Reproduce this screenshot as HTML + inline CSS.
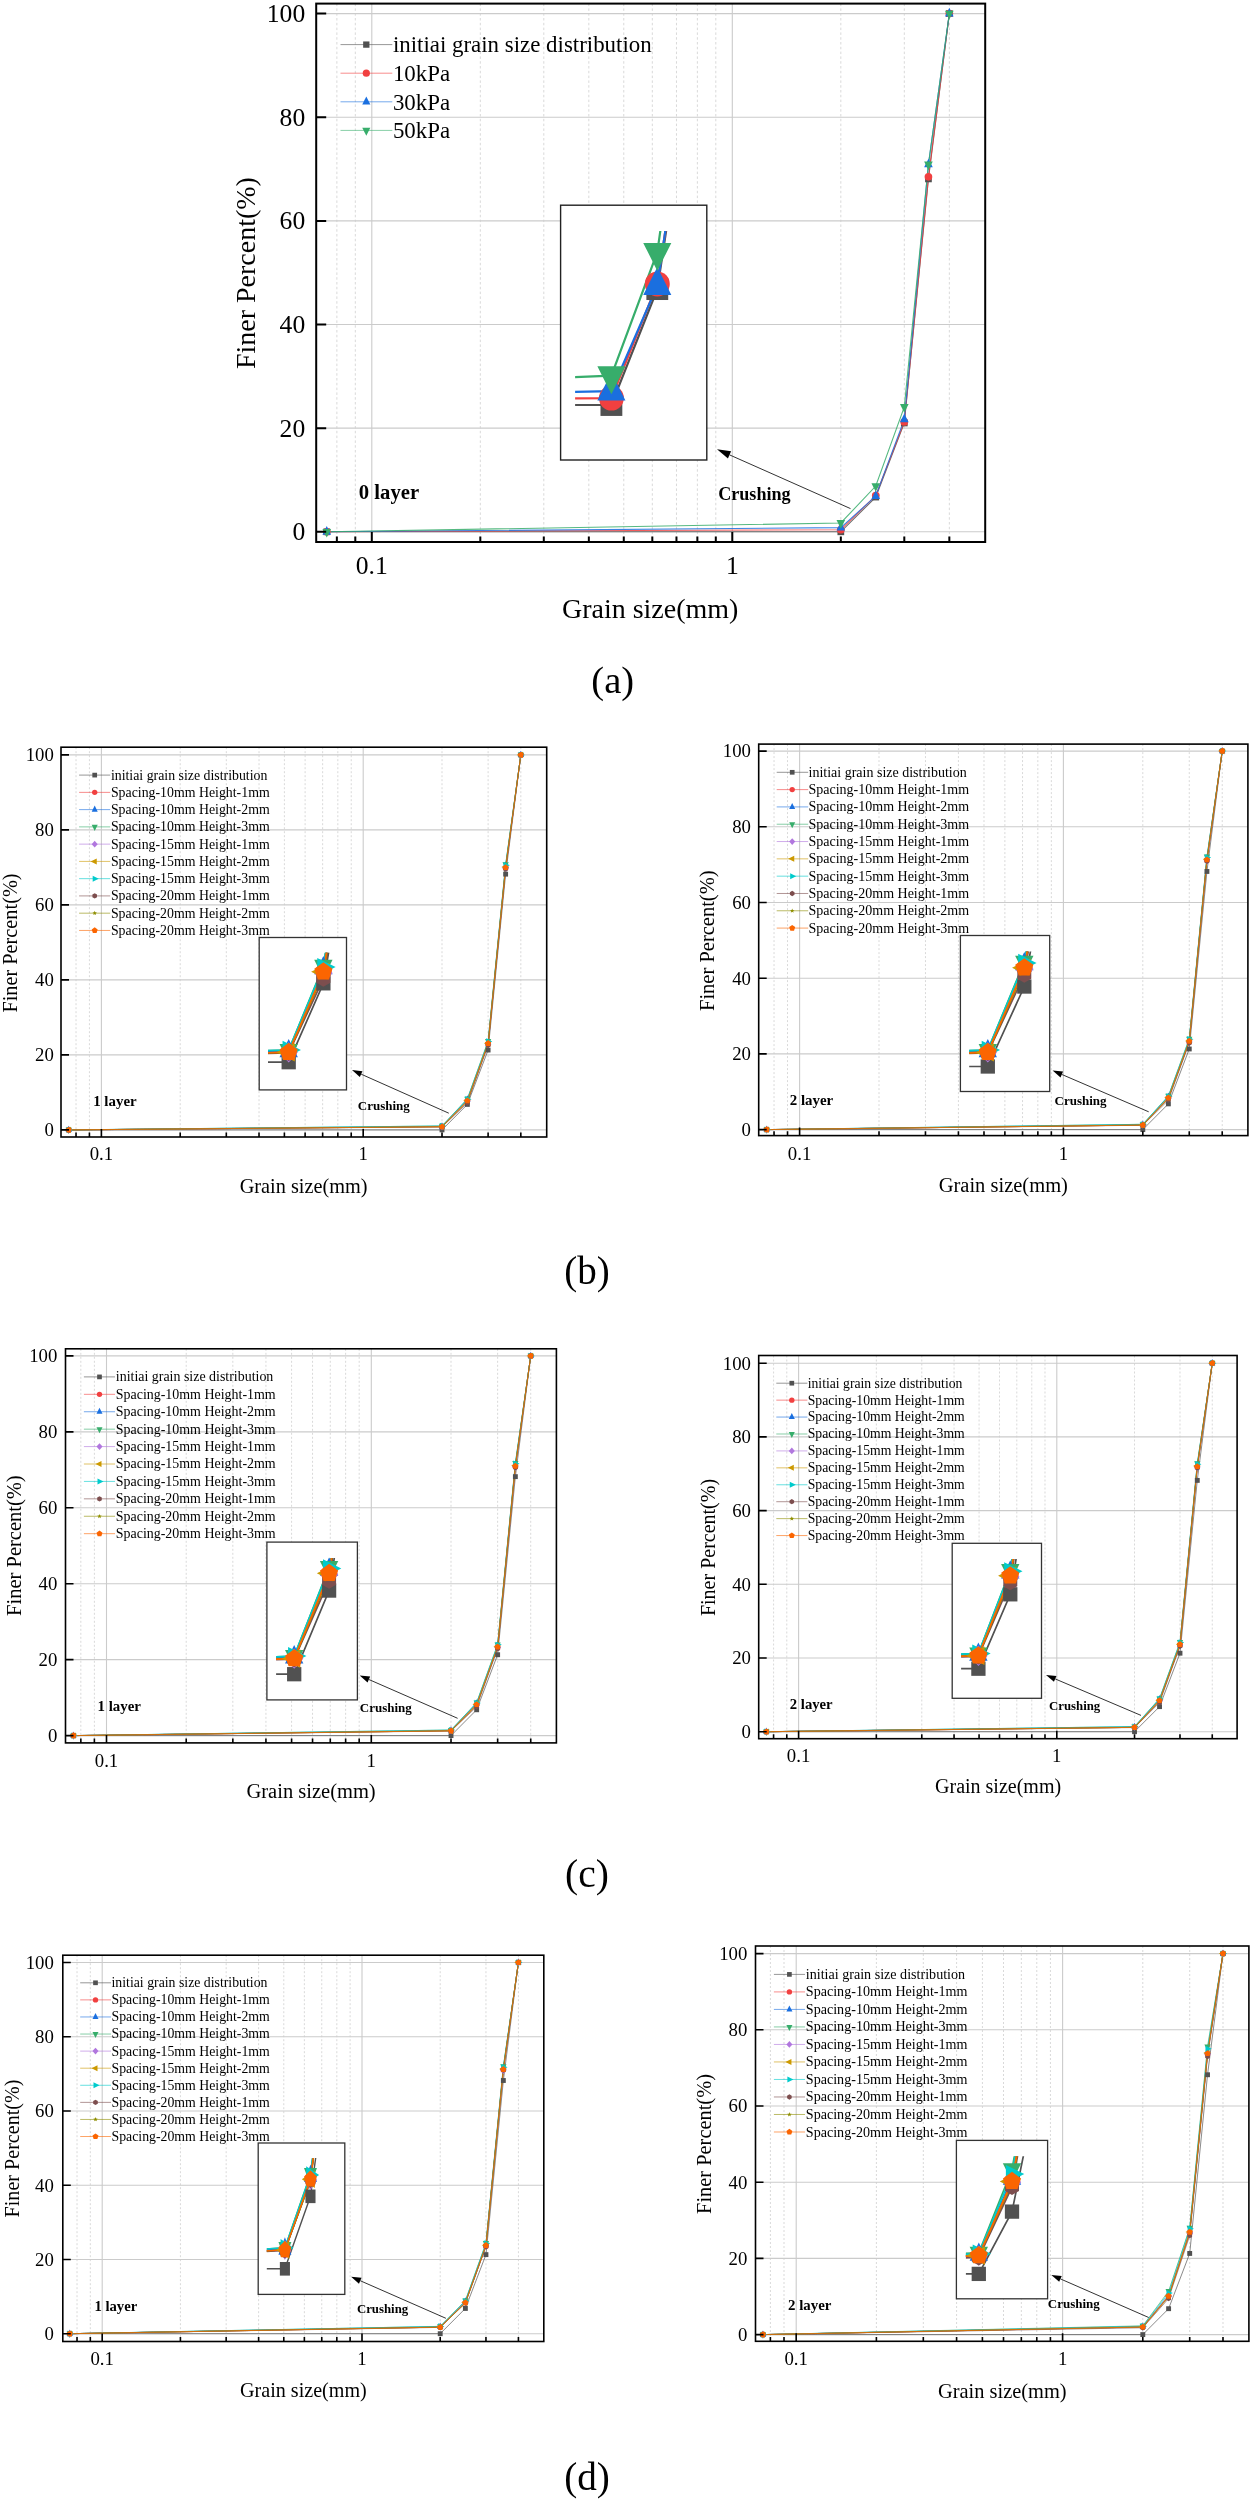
<!DOCTYPE html>
<html><head><meta charset="utf-8"><style>
html,body{margin:0;padding:0;background:#fff;}
svg{display:block;will-change:transform;}
</style></head><body>
<svg width="1252" height="2500" viewBox="0 0 1252 2500" font-family="'Liberation Serif', serif" fill="#000">
<rect width="1252" height="2500" fill="#fff"/>
<path d="M336.86 3.6V542M355.3 3.6V542M480.32 3.6V542M543.8 3.6V542M588.84 3.6V542M623.78 3.6V542M652.32 3.6V542M676.46 3.6V542M697.36 3.6V542M715.8 3.6V542M840.82 3.6V542M904.3 3.6V542M949.34 3.6V542" stroke="#d9d9d9" stroke-width="1" stroke-dasharray="2.5 2.3" fill="none"/>
<path d="M371.8 3.6V542M732.3 3.6V542M316.2 531.8H985.2M316.2 428.16H985.2M316.2 324.52H985.2M316.2 220.88H985.2M316.2 117.24H985.2M316.2 13.6H985.2" stroke="#cbcbcb" stroke-width="1.1" fill="none"/>
<line x1="340.5" y1="44.6" x2="392.3" y2="44.6" stroke="#515151" stroke-width="1" stroke-opacity="0.6"/>
<rect x="363.15" y="41.45" width="6.3" height="6.3" fill="#515151"/>
<text x="392.9" y="52.39" font-size="22.9" text-anchor="start">initiai grain size distribution</text>
<line x1="340.5" y1="73.2" x2="392.3" y2="73.2" stroke="#F14040" stroke-width="1" stroke-opacity="0.6"/>
<ellipse cx="366.3" cy="73.2" rx="3.6" ry="3.6" fill="#F14040"/>
<text x="392.9" y="80.99" font-size="22.9" text-anchor="start">10kPa</text>
<line x1="340.5" y1="101.8" x2="392.3" y2="101.8" stroke="#1A6FDF" stroke-width="1" stroke-opacity="0.6"/>
<polygon points="366.3,96.4 370.35,104.5 362.25,104.5" fill="#1A6FDF"/>
<text x="392.9" y="109.59" font-size="22.9" text-anchor="start">30kPa</text>
<line x1="340.5" y1="130.4" x2="392.3" y2="130.4" stroke="#37AD6B" stroke-width="1" stroke-opacity="0.6"/>
<polygon points="366.3,135.8 370.35,127.7 362.25,127.7" fill="#37AD6B"/>
<text x="392.9" y="138.19" font-size="22.9" text-anchor="start">50kPa</text>
<rect x="560.6" y="205.2" width="146.2" height="254.8" fill="#fff" stroke="#222" stroke-width="1.4"/>
<clipPath id="ca"><rect x="316.2" y="3.6" width="669" height="538.4"/></clipPath>
<g clip-path="url(#ca)">
<polyline points="326.76,531.8 840.82,531.8 875.76,497.08 904.3,422.98 928.44,178.91 949.34,13.6" fill="none" stroke="#515151" stroke-width="1.1" stroke-opacity="0.85"/>
<polyline points="326.76,531.8 840.82,529.73 875.76,495.53 904.3,421.94 928.44,176.83 949.34,13.6" fill="none" stroke="#F14040" stroke-width="1.1" stroke-opacity="0.85"/>
<polyline points="326.76,531.8 840.82,527.65 875.76,496.04 904.3,419.35 928.44,164.4 949.34,13.6" fill="none" stroke="#1A6FDF" stroke-width="1.1" stroke-opacity="0.85"/>
<polyline points="326.76,531.8 840.82,522.99 875.76,486.04 904.3,406.91 928.44,164.4 949.34,13.6" fill="none" stroke="#37AD6B" stroke-width="1.1" stroke-opacity="0.85"/>
<rect x="323.4" y="528.44" width="6.72" height="6.72" fill="#515151"/>
<rect x="837.46" y="528.44" width="6.72" height="6.72" fill="#515151"/>
<rect x="872.4" y="493.72" width="6.72" height="6.72" fill="#515151"/>
<rect x="900.94" y="419.62" width="6.72" height="6.72" fill="#515151"/>
<rect x="925.08" y="175.55" width="6.72" height="6.72" fill="#515151"/>
<rect x="945.98" y="10.24" width="6.72" height="6.72" fill="#515151"/>
<ellipse cx="326.76" cy="531.8" rx="3.84" ry="3.84" fill="#F14040"/>
<ellipse cx="840.82" cy="529.73" rx="3.84" ry="3.84" fill="#F14040"/>
<ellipse cx="875.76" cy="495.53" rx="3.84" ry="3.84" fill="#F14040"/>
<ellipse cx="904.3" cy="421.94" rx="3.84" ry="3.84" fill="#F14040"/>
<ellipse cx="928.44" cy="176.83" rx="3.84" ry="3.84" fill="#F14040"/>
<ellipse cx="949.34" cy="13.6" rx="3.84" ry="3.84" fill="#F14040"/>
<polygon points="326.76,526.04 331.08,534.68 322.44,534.68" fill="#1A6FDF"/>
<polygon points="840.82,521.89 845.14,530.53 836.5,530.53" fill="#1A6FDF"/>
<polygon points="875.76,490.28 880.08,498.92 871.44,498.92" fill="#1A6FDF"/>
<polygon points="904.3,413.59 908.62,422.23 899.98,422.23" fill="#1A6FDF"/>
<polygon points="928.44,158.64 932.76,167.28 924.12,167.28" fill="#1A6FDF"/>
<polygon points="949.34,7.84 953.66,16.48 945.02,16.48" fill="#1A6FDF"/>
<polygon points="326.76,537.56 331.08,528.92 322.44,528.92" fill="#37AD6B"/>
<polygon points="840.82,528.75 845.14,520.11 836.5,520.11" fill="#37AD6B"/>
<polygon points="875.76,491.8 880.08,483.16 871.44,483.16" fill="#37AD6B"/>
<polygon points="904.3,412.67 908.62,404.03 899.98,404.03" fill="#37AD6B"/>
<polygon points="928.44,170.16 932.76,161.52 924.12,161.52" fill="#37AD6B"/>
<polygon points="949.34,19.36 953.66,10.72 945.02,10.72" fill="#37AD6B"/>
</g>
<clipPath id="ia"><rect x="575.1" y="231" width="129.7" height="227"/></clipPath>
<g clip-path="url(#ia)">
<polyline points="-63.94,405 611.4,405 657.3,289.09 694.8,41.7 726.5,-773.13 753.97,-1325" fill="none" stroke="#515151" stroke-width="2.2"/>
<polyline points="-63.94,405 611.4,398.08 657.3,283.9 694.8,38.24 726.5,-780.05 753.97,-1325" fill="none" stroke="#F14040" stroke-width="2.2"/>
<polyline points="-63.94,405 611.4,391.16 657.3,285.63 694.8,29.59 726.5,-821.57 753.97,-1325" fill="none" stroke="#1A6FDF" stroke-width="2.2"/>
<polyline points="-63.94,405 611.4,375.59 657.3,252.24 694.8,-11.93 726.5,-821.57 753.97,-1325" fill="none" stroke="#37AD6B" stroke-width="2.2"/>
</g>
<rect x="600.48" y="394.08" width="21.84" height="21.84" fill="#515151"/>
<rect x="646.38" y="278.17" width="21.84" height="21.84" fill="#515151"/>
<ellipse cx="611.4" cy="398.08" rx="12.48" ry="12.48" fill="#F14040"/>
<ellipse cx="657.3" cy="283.9" rx="12.48" ry="12.48" fill="#F14040"/>
<polygon points="611.4,372.44 625.44,400.52 597.36,400.52" fill="#1A6FDF"/>
<polygon points="657.3,266.91 671.34,294.99 643.26,294.99" fill="#1A6FDF"/>
<polygon points="611.4,394.31 625.44,366.23 597.36,366.23" fill="#37AD6B"/>
<polygon points="657.3,270.96 671.34,242.88 643.26,242.88" fill="#37AD6B"/>
<rect x="316.2" y="3.6" width="669" height="538.4" fill="none" stroke="#000" stroke-width="2"/>
<path d="M316.2 531.8h10M316.2 428.16h10M316.2 324.52h10M316.2 220.88h10M316.2 117.24h10M316.2 13.6h10M371.8 542v-10M732.3 542v-10M336.86 542v-5.5M355.3 542v-5.5M480.32 542v-5.5M543.8 542v-5.5M588.84 542v-5.5M623.78 542v-5.5M652.32 542v-5.5M676.46 542v-5.5M697.36 542v-5.5M715.8 542v-5.5M840.82 542v-5.5M904.3 542v-5.5M949.34 542v-5.5" stroke="#000" stroke-width="2" fill="none"/>
<text x="305.2" y="540.38" font-size="25.6" text-anchor="end">0</text>
<text x="305.2" y="436.74" font-size="25.6" text-anchor="end">20</text>
<text x="305.2" y="333.1" font-size="25.6" text-anchor="end">40</text>
<text x="305.2" y="229.46" font-size="25.6" text-anchor="end">60</text>
<text x="305.2" y="125.82" font-size="25.6" text-anchor="end">80</text>
<text x="305.2" y="22.18" font-size="25.6" text-anchor="end">100</text>
<text x="371.8" y="573.8" font-size="25.6" text-anchor="middle">0.1</text>
<text x="732.3" y="573.8" font-size="25.6" text-anchor="middle">1</text>
<text x="650.2" y="618.2" font-size="28" text-anchor="middle">Grain size(mm)</text>
<text x="0" y="0" font-size="28" text-anchor="middle" transform="translate(255.4,273.1) rotate(-90)">Finer Percent(%)</text>
<text x="358.8" y="498.8" font-size="20.7" text-anchor="start" font-weight="bold">0 layer</text>
<text x="718.2" y="499.8" font-size="18.1" text-anchor="start" font-weight="bold">Crushing</text>
<line x1="850.5" y1="508.6" x2="729.52" y2="454.86" stroke="#333" stroke-width="1"/>
<polygon points="717,449.3 731.1,451.3 727.94,458.43" fill="#000"/>
<path d="M76.03 747.2V1137M89.42 747.2V1137M180.21 747.2V1137M226.31 747.2V1137M259.02 747.2V1137M284.39 747.2V1137M305.12 747.2V1137M322.65 747.2V1137M337.83 747.2V1137M351.22 747.2V1137M442.01 747.2V1137M488.11 747.2V1137M520.82 747.2V1137" stroke="#d9d9d9" stroke-width="1" stroke-dasharray="2 2" fill="none"/>
<path d="M101.4 747.2V1137M363.2 747.2V1137M61 1129.9H546.7M61 1054.9H546.7M61 979.9H546.7M61 904.9H546.7M61 829.9H546.7M61 754.9H546.7" stroke="#cbcbcb" stroke-width="1.1" fill="none"/>
<line x1="79.1" y1="775.1" x2="110.2" y2="775.1" stroke="#515151" stroke-width="1" stroke-opacity="0.6"/>
<rect x="92.35" y="772.75" width="4.7" height="4.7" fill="#515151"/>
<text x="110.9" y="779.53" font-size="13.85" text-anchor="start">initiai grain size distribution</text>
<line x1="79.1" y1="792.36" x2="110.2" y2="792.36" stroke="#F14040" stroke-width="1" stroke-opacity="0.6"/>
<ellipse cx="94.7" cy="792.36" rx="2.69" ry="2.69" fill="#F14040"/>
<text x="110.9" y="796.79" font-size="13.85" text-anchor="start">Spacing-10mm Height-1mm</text>
<line x1="79.1" y1="809.62" x2="110.2" y2="809.62" stroke="#1A6FDF" stroke-width="1" stroke-opacity="0.6"/>
<polygon points="94.7,805.59 97.72,811.64 91.68,811.64" fill="#1A6FDF"/>
<text x="110.9" y="814.05" font-size="13.85" text-anchor="start">Spacing-10mm Height-2mm</text>
<line x1="79.1" y1="826.88" x2="110.2" y2="826.88" stroke="#37AD6B" stroke-width="1" stroke-opacity="0.6"/>
<polygon points="94.7,830.91 97.72,824.86 91.68,824.86" fill="#37AD6B"/>
<text x="110.9" y="831.31" font-size="13.85" text-anchor="start">Spacing-10mm Height-3mm</text>
<line x1="79.1" y1="844.14" x2="110.2" y2="844.14" stroke="#B177DE" stroke-width="1" stroke-opacity="0.6"/>
<polygon points="94.7,840.78 97.72,844.14 94.7,847.5 91.68,844.14" fill="#B177DE"/>
<text x="110.9" y="848.57" font-size="13.85" text-anchor="start">Spacing-15mm Height-1mm</text>
<line x1="79.1" y1="861.4" x2="110.2" y2="861.4" stroke="#CC9900" stroke-width="1" stroke-opacity="0.6"/>
<polygon points="90.67,861.4 96.72,858.38 96.72,864.42" fill="#CC9900"/>
<text x="110.9" y="865.83" font-size="13.85" text-anchor="start">Spacing-15mm Height-2mm</text>
<line x1="79.1" y1="878.66" x2="110.2" y2="878.66" stroke="#00CBCC" stroke-width="1" stroke-opacity="0.6"/>
<polygon points="98.73,878.66 92.68,875.64 92.68,881.68" fill="#00CBCC"/>
<text x="110.9" y="883.09" font-size="13.85" text-anchor="start">Spacing-15mm Height-3mm</text>
<line x1="79.1" y1="895.92" x2="110.2" y2="895.92" stroke="#7D4E4E" stroke-width="1" stroke-opacity="0.6"/>
<polygon points="97,897.25 94.7,898.58 92.4,897.25 92.4,894.59 94.7,893.26 97,894.59" fill="#7D4E4E"/>
<text x="110.9" y="900.35" font-size="13.85" text-anchor="start">Spacing-20mm Height-1mm</text>
<line x1="79.1" y1="913.18" x2="110.2" y2="913.18" stroke="#8E8E00" stroke-width="1" stroke-opacity="0.6"/>
<polygon points="94.7,910.8 95.29,912.36 96.96,912.44 95.66,913.49 96.1,915.11 94.7,914.19 93.3,915.11 93.74,913.49 92.44,912.44 94.11,912.36" fill="#8E8E00"/>
<text x="110.9" y="917.61" font-size="13.85" text-anchor="start">Spacing-20mm Height-2mm</text>
<line x1="79.1" y1="930.44" x2="110.2" y2="930.44" stroke="#FB6501" stroke-width="1" stroke-opacity="0.6"/>
<polygon points="94.7,927.3 97.68,929.47 96.54,932.98 92.86,932.98 91.72,929.47" fill="#FB6501"/>
<text x="110.9" y="934.87" font-size="13.85" text-anchor="start">Spacing-20mm Height-3mm</text>
<rect x="259.2" y="937.5" width="87.3" height="152.4" fill="#fff" stroke="#333" stroke-width="1.3"/>
<clipPath id="cbL"><rect x="61" y="747.2" width="485.7" height="389.8"/></clipPath>
<g clip-path="url(#cbL)">
<polyline points="68.69,1129.9 442.01,1129.9 467.38,1104.4 488.11,1050.03 505.64,874.15 520.82,754.9" fill="none" stroke="#515151" stroke-width="0.9" stroke-opacity="0.75"/>
<polyline points="68.69,1129.9 442.01,1126.71 467.38,1100.65 488.11,1044.4 505.64,868.15 520.82,754.9" fill="none" stroke="#F14040" stroke-width="0.9" stroke-opacity="0.75"/>
<polyline points="68.69,1129.9 442.01,1126.34 467.38,1099.53 488.11,1042.53 505.64,865.9 520.82,754.9" fill="none" stroke="#1A6FDF" stroke-width="0.9" stroke-opacity="0.75"/>
<polyline points="68.69,1129.9 442.01,1125.96 467.38,1098.78 488.11,1041.03 505.64,864.4 520.82,754.9" fill="none" stroke="#37AD6B" stroke-width="0.9" stroke-opacity="0.75"/>
<polyline points="68.69,1129.9 442.01,1126.71 467.38,1101.03 488.11,1044.03 505.64,868.53 520.82,754.9" fill="none" stroke="#B177DE" stroke-width="0.9" stroke-opacity="0.75"/>
<polyline points="68.69,1129.9 442.01,1126.71 467.38,1100.65 488.11,1043.28 505.64,867.03 520.82,754.9" fill="none" stroke="#CC9900" stroke-width="0.9" stroke-opacity="0.75"/>
<polyline points="68.69,1129.9 442.01,1125.96 467.38,1099.15 488.11,1041.4 505.64,865.15 520.82,754.9" fill="none" stroke="#00CBCC" stroke-width="0.9" stroke-opacity="0.75"/>
<polyline points="68.69,1129.9 442.01,1126.9 467.38,1102.9 488.11,1045.15 505.64,868.9 520.82,754.9" fill="none" stroke="#7D4E4E" stroke-width="0.9" stroke-opacity="0.75"/>
<polyline points="68.69,1129.9 442.01,1126.71 467.38,1101.4 488.11,1043.65 505.64,867.4 520.82,754.9" fill="none" stroke="#8E8E00" stroke-width="0.9" stroke-opacity="0.75"/>
<polyline points="68.69,1129.9 442.01,1126.71 467.38,1100.65 488.11,1043.28 505.64,867.4 520.82,754.9" fill="none" stroke="#FB6501" stroke-width="0.9" stroke-opacity="0.75"/>
<rect x="66.26" y="1127.46" width="4.87" height="4.87" fill="#515151"/>
<rect x="439.57" y="1127.46" width="4.87" height="4.87" fill="#515151"/>
<rect x="464.94" y="1101.96" width="4.87" height="4.87" fill="#515151"/>
<rect x="485.67" y="1047.59" width="4.87" height="4.87" fill="#515151"/>
<rect x="503.2" y="871.71" width="4.87" height="4.87" fill="#515151"/>
<rect x="518.38" y="752.46" width="4.87" height="4.87" fill="#515151"/>
<ellipse cx="68.69" cy="1129.9" rx="2.78" ry="2.78" fill="#F14040"/>
<ellipse cx="442.01" cy="1126.71" rx="2.78" ry="2.78" fill="#F14040"/>
<ellipse cx="467.38" cy="1100.65" rx="2.78" ry="2.78" fill="#F14040"/>
<ellipse cx="488.11" cy="1044.4" rx="2.78" ry="2.78" fill="#F14040"/>
<ellipse cx="505.64" cy="868.15" rx="2.78" ry="2.78" fill="#F14040"/>
<ellipse cx="520.82" cy="754.9" rx="2.78" ry="2.78" fill="#F14040"/>
<polygon points="68.69,1125.72 71.82,1131.99 65.56,1131.99" fill="#1A6FDF"/>
<polygon points="442.01,1122.16 445.14,1128.43 438.88,1128.43" fill="#1A6FDF"/>
<polygon points="467.38,1095.35 470.51,1101.61 464.25,1101.61" fill="#1A6FDF"/>
<polygon points="488.11,1038.35 491.24,1044.61 484.98,1044.61" fill="#1A6FDF"/>
<polygon points="505.64,861.72 508.77,867.99 502.51,867.99" fill="#1A6FDF"/>
<polygon points="520.82,750.72 523.95,756.99 517.69,756.99" fill="#1A6FDF"/>
<polygon points="68.69,1134.08 71.82,1127.81 65.56,1127.81" fill="#37AD6B"/>
<polygon points="442.01,1130.14 445.14,1123.87 438.88,1123.87" fill="#37AD6B"/>
<polygon points="467.38,1102.95 470.51,1096.69 464.25,1096.69" fill="#37AD6B"/>
<polygon points="488.11,1045.2 491.24,1038.94 484.98,1038.94" fill="#37AD6B"/>
<polygon points="505.64,868.58 508.77,862.31 502.51,862.31" fill="#37AD6B"/>
<polygon points="520.82,759.08 523.95,752.81 517.69,752.81" fill="#37AD6B"/>
<polygon points="68.69,1126.42 71.82,1129.9 68.69,1133.38 65.56,1129.9" fill="#B177DE"/>
<polygon points="442.01,1123.23 445.14,1126.71 442.01,1130.19 438.88,1126.71" fill="#B177DE"/>
<polygon points="467.38,1097.55 470.51,1101.03 467.38,1104.51 464.25,1101.03" fill="#B177DE"/>
<polygon points="488.11,1040.55 491.24,1044.03 488.11,1047.51 484.98,1044.03" fill="#B177DE"/>
<polygon points="505.64,865.05 508.77,868.53 505.64,872.01 502.51,868.53" fill="#B177DE"/>
<polygon points="520.82,751.42 523.95,754.9 520.82,758.38 517.69,754.9" fill="#B177DE"/>
<polygon points="64.52,1129.9 70.78,1126.77 70.78,1133.03" fill="#CC9900"/>
<polygon points="437.83,1126.71 444.1,1123.58 444.1,1129.84" fill="#CC9900"/>
<polygon points="463.2,1100.65 469.47,1097.52 469.47,1103.78" fill="#CC9900"/>
<polygon points="483.93,1043.28 490.2,1040.14 490.2,1046.41" fill="#CC9900"/>
<polygon points="501.46,867.03 507.73,863.89 507.73,870.16" fill="#CC9900"/>
<polygon points="516.64,754.9 522.91,751.77 522.91,758.03" fill="#CC9900"/>
<polygon points="72.87,1129.9 66.6,1126.77 66.6,1133.03" fill="#00CBCC"/>
<polygon points="446.19,1125.96 439.92,1122.83 439.92,1129.09" fill="#00CBCC"/>
<polygon points="471.56,1099.15 465.29,1096.02 465.29,1102.28" fill="#00CBCC"/>
<polygon points="492.29,1041.4 486.02,1038.27 486.02,1044.53" fill="#00CBCC"/>
<polygon points="509.81,865.15 503.55,862.02 503.55,868.28" fill="#00CBCC"/>
<polygon points="525,754.9 518.73,751.77 518.73,758.03" fill="#00CBCC"/>
<polygon points="71.08,1131.28 68.69,1132.66 66.31,1131.28 66.31,1128.52 68.69,1127.14 71.08,1128.52" fill="#7D4E4E"/>
<polygon points="444.4,1128.28 442.01,1129.66 439.62,1128.28 439.62,1125.52 442.01,1124.14 444.4,1125.52" fill="#7D4E4E"/>
<polygon points="469.77,1104.28 467.38,1105.66 464.99,1104.28 464.99,1101.52 467.38,1100.14 469.77,1101.52" fill="#7D4E4E"/>
<polygon points="490.5,1046.53 488.11,1047.91 485.72,1046.53 485.72,1043.77 488.11,1042.39 490.5,1043.77" fill="#7D4E4E"/>
<polygon points="508.02,870.28 505.64,871.66 503.25,870.28 503.25,867.52 505.64,866.15 508.02,867.52" fill="#7D4E4E"/>
<polygon points="523.21,756.28 520.82,757.66 518.43,756.28 518.43,753.52 520.82,752.15 523.21,753.52" fill="#7D4E4E"/>
<polygon points="68.69,1127.44 69.3,1129.06 71.04,1129.14 69.68,1130.22 70.14,1131.89 68.69,1130.94 67.24,1131.89 67.7,1130.22 66.35,1129.14 68.08,1129.06" fill="#8E8E00"/>
<polygon points="442.01,1124.25 442.62,1125.87 444.35,1125.95 443,1127.04 443.46,1128.71 442.01,1127.76 440.56,1128.71 441.02,1127.04 439.67,1125.95 441.4,1125.87" fill="#8E8E00"/>
<polygon points="467.38,1098.94 467.99,1100.56 469.73,1100.64 468.37,1101.72 468.83,1103.39 467.38,1102.44 465.93,1103.39 466.39,1101.72 465.04,1100.64 466.77,1100.56" fill="#8E8E00"/>
<polygon points="488.11,1041.19 488.72,1042.81 490.45,1042.89 489.1,1043.97 489.56,1045.64 488.11,1044.69 486.66,1045.64 487.12,1043.97 485.77,1042.89 487.5,1042.81" fill="#8E8E00"/>
<polygon points="505.64,864.94 506.25,866.56 507.98,866.64 506.63,867.72 507.09,869.39 505.64,868.44 504.19,869.39 504.64,867.72 503.29,866.64 505.02,866.56" fill="#8E8E00"/>
<polygon points="520.82,752.44 521.43,754.06 523.16,754.14 521.81,755.22 522.27,756.89 520.82,755.94 519.37,756.89 519.83,755.22 518.47,754.14 520.21,754.06" fill="#8E8E00"/>
<polygon points="68.69,1126.65 71.78,1128.9 70.6,1132.53 66.78,1132.53 65.6,1128.9" fill="#FB6501"/>
<polygon points="442.01,1123.46 445.1,1125.71 443.92,1129.34 440.1,1129.34 438.92,1125.71" fill="#FB6501"/>
<polygon points="467.38,1097.4 470.47,1099.65 469.29,1103.28 465.47,1103.28 464.29,1099.65" fill="#FB6501"/>
<polygon points="488.11,1040.03 491.2,1042.27 490.02,1045.9 486.2,1045.9 485.02,1042.27" fill="#FB6501"/>
<polygon points="505.64,864.15 508.73,866.4 507.55,870.03 503.73,870.03 502.55,866.4" fill="#FB6501"/>
<polygon points="520.82,751.65 523.91,753.9 522.73,757.53 518.91,757.53 517.73,753.9" fill="#FB6501"/>
</g>
<clipPath id="ibL"><rect x="268" y="952.8" width="76.5" height="135.1"/></clipPath>
<g clip-path="url(#ibL)">
<polyline points="-221.8,1062.2 288.7,1062.2 323.39,983.32 351.74,815.12 375.71,271.08 396.47,-97.8" fill="none" stroke="#515151" stroke-width="1.7"/>
<polyline points="-221.8,1062.2 288.7,1052.34 323.39,971.72 351.74,797.72 375.71,252.52 396.47,-97.8" fill="none" stroke="#F14040" stroke-width="1.7"/>
<polyline points="-221.8,1062.2 288.7,1051.18 323.39,968.24 351.74,791.92 375.71,245.56 396.47,-97.8" fill="none" stroke="#1A6FDF" stroke-width="1.7"/>
<polyline points="-221.8,1062.2 288.7,1050.02 323.39,965.92 351.74,787.28 375.71,240.92 396.47,-97.8" fill="none" stroke="#37AD6B" stroke-width="1.7"/>
<polyline points="-221.8,1062.2 288.7,1052.34 323.39,972.88 351.74,796.56 375.71,253.68 396.47,-97.8" fill="none" stroke="#B177DE" stroke-width="1.7"/>
<polyline points="-221.8,1062.2 288.7,1052.34 323.39,971.72 351.74,794.24 375.71,249.04 396.47,-97.8" fill="none" stroke="#CC9900" stroke-width="1.7"/>
<polyline points="-221.8,1062.2 288.7,1050.02 323.39,967.08 351.74,788.44 375.71,243.24 396.47,-97.8" fill="none" stroke="#00CBCC" stroke-width="1.7"/>
<polyline points="-221.8,1062.2 288.7,1052.92 323.39,978.68 351.74,800.04 375.71,254.84 396.47,-97.8" fill="none" stroke="#7D4E4E" stroke-width="1.7"/>
<polyline points="-221.8,1062.2 288.7,1052.34 323.39,974.04 351.74,795.4 375.71,250.2 396.47,-97.8" fill="none" stroke="#8E8E00" stroke-width="1.7"/>
<polyline points="-221.8,1062.2 288.7,1052.34 323.39,971.72 351.74,794.24 375.71,250.2 396.47,-97.8" fill="none" stroke="#FB6501" stroke-width="1.7"/>
</g>
<rect x="281.56" y="1055.06" width="14.28" height="14.28" fill="#515151"/>
<rect x="316.25" y="976.18" width="14.28" height="14.28" fill="#515151"/>
<ellipse cx="288.7" cy="1052.34" rx="8.16" ry="8.16" fill="#F14040"/>
<ellipse cx="323.39" cy="971.72" rx="8.16" ry="8.16" fill="#F14040"/>
<polygon points="288.7,1038.94 297.88,1057.3 279.52,1057.3" fill="#1A6FDF"/>
<polygon points="323.39,956 332.57,974.36 314.21,974.36" fill="#1A6FDF"/>
<polygon points="288.7,1062.26 297.88,1043.9 279.52,1043.9" fill="#37AD6B"/>
<polygon points="323.39,978.16 332.57,959.8 314.21,959.8" fill="#37AD6B"/>
<polygon points="288.7,1042.14 297.88,1052.34 288.7,1062.54 279.52,1052.34" fill="#B177DE"/>
<polygon points="323.39,962.68 332.57,972.88 323.39,983.08 314.21,972.88" fill="#B177DE"/>
<polygon points="276.46,1052.34 294.82,1043.16 294.82,1061.52" fill="#CC9900"/>
<polygon points="311.15,971.72 329.51,962.54 329.51,980.9" fill="#CC9900"/>
<polygon points="300.94,1050.02 282.58,1040.84 282.58,1059.2" fill="#00CBCC"/>
<polygon points="335.63,967.08 317.27,957.9 317.27,976.26" fill="#00CBCC"/>
<polygon points="295.69,1056.96 288.7,1061 281.71,1056.96 281.71,1048.88 288.7,1044.85 295.69,1048.88" fill="#7D4E4E"/>
<polygon points="330.39,982.72 323.39,986.76 316.4,982.72 316.4,974.64 323.39,970.61 330.39,974.64" fill="#7D4E4E"/>
<polygon points="288.7,1045.12 290.5,1049.86 295.57,1050.11 291.61,1053.29 292.95,1058.19 288.7,1055.4 284.45,1058.19 285.79,1053.29 281.83,1050.11 286.9,1049.86" fill="#8E8E00"/>
<polygon points="323.39,966.82 325.19,971.56 330.27,971.81 326.3,974.99 327.64,979.89 323.39,977.1 319.15,979.89 320.48,974.99 316.52,971.81 321.6,971.56" fill="#8E8E00"/>
<polygon points="288.7,1042.82 297.75,1049.4 294.3,1060.04 283.1,1060.04 279.65,1049.4" fill="#FB6501"/>
<polygon points="323.39,962.2 332.45,968.78 328.99,979.42 317.8,979.42 314.34,968.78" fill="#FB6501"/>
<rect x="61" y="747.2" width="485.7" height="389.8" fill="none" stroke="#000" stroke-width="1.6"/>
<path d="M61 1129.9h8M61 1054.9h8M61 979.9h8M61 904.9h8M61 829.9h8M61 754.9h8M101.4 1137v-8M363.2 1137v-8M76.03 1137v-4.4M89.42 1137v-4.4M180.21 1137v-4.4M226.31 1137v-4.4M259.02 1137v-4.4M284.39 1137v-4.4M305.12 1137v-4.4M322.65 1137v-4.4M337.83 1137v-4.4M351.22 1137v-4.4M442.01 1137v-4.4M488.11 1137v-4.4M520.82 1137v-4.4" stroke="#000" stroke-width="1.6" fill="none"/>
<text x="53.8" y="1136.2" font-size="18.8" text-anchor="end">0</text>
<text x="53.8" y="1061.2" font-size="18.8" text-anchor="end">20</text>
<text x="53.8" y="986.2" font-size="18.8" text-anchor="end">40</text>
<text x="53.8" y="911.2" font-size="18.8" text-anchor="end">60</text>
<text x="53.8" y="836.2" font-size="18.8" text-anchor="end">80</text>
<text x="53.8" y="761.2" font-size="18.8" text-anchor="end">100</text>
<text x="101.4" y="1160" font-size="18.8" text-anchor="middle">0.1</text>
<text x="363.2" y="1160" font-size="18.8" text-anchor="middle">1</text>
<text x="303.6" y="1192.7" font-size="20.3" text-anchor="middle">Grain size(mm)</text>
<text x="0" y="0" font-size="20.3" text-anchor="middle" transform="translate(17,943) rotate(-90)">Finer Percent(%)</text>
<text x="93.2" y="1105.8" font-size="14.9" text-anchor="start" font-weight="bold">1 layer</text>
<text x="357.75" y="1109.7" font-size="13" text-anchor="start" font-weight="bold">Crushing</text>
<line x1="448.8" y1="1113.2" x2="361.14" y2="1074.17" stroke="#333" stroke-width="1"/>
<polygon points="352,1070.1 362.44,1071.24 359.83,1077.09" fill="#000"/>
<path d="M774.04 744.1V1135.6M787.53 744.1V1135.6M879.01 744.1V1135.6M925.46 744.1V1135.6M958.42 744.1V1135.6M983.99 744.1V1135.6M1004.88 744.1V1135.6M1022.54 744.1V1135.6M1037.84 744.1V1135.6M1051.33 744.1V1135.6M1142.81 744.1V1135.6M1189.26 744.1V1135.6M1222.22 744.1V1135.6" stroke="#d9d9d9" stroke-width="1" stroke-dasharray="2 2" fill="none"/>
<path d="M799.6 744.1V1135.6M1063.4 744.1V1135.6M758.7 1129.6H1247.9M758.7 1053.9H1247.9M758.7 978.2H1247.9M758.7 902.5H1247.9M758.7 826.8H1247.9M758.7 751.1H1247.9" stroke="#cbcbcb" stroke-width="1.1" fill="none"/>
<line x1="776.7" y1="772.3" x2="808.2" y2="772.3" stroke="#515151" stroke-width="1" stroke-opacity="0.6"/>
<rect x="789.85" y="769.95" width="4.7" height="4.7" fill="#515151"/>
<text x="808.5" y="776.78" font-size="14" text-anchor="start">initiai grain size distribution</text>
<line x1="776.7" y1="789.61" x2="808.2" y2="789.61" stroke="#F14040" stroke-width="1" stroke-opacity="0.6"/>
<ellipse cx="792.2" cy="789.61" rx="2.69" ry="2.69" fill="#F14040"/>
<text x="808.5" y="794.09" font-size="14" text-anchor="start">Spacing-10mm Height-1mm</text>
<line x1="776.7" y1="806.92" x2="808.2" y2="806.92" stroke="#1A6FDF" stroke-width="1" stroke-opacity="0.6"/>
<polygon points="792.2,802.89 795.22,808.94 789.18,808.94" fill="#1A6FDF"/>
<text x="808.5" y="811.4" font-size="14" text-anchor="start">Spacing-10mm Height-2mm</text>
<line x1="776.7" y1="824.23" x2="808.2" y2="824.23" stroke="#37AD6B" stroke-width="1" stroke-opacity="0.6"/>
<polygon points="792.2,828.26 795.22,822.21 789.18,822.21" fill="#37AD6B"/>
<text x="808.5" y="828.71" font-size="14" text-anchor="start">Spacing-10mm Height-3mm</text>
<line x1="776.7" y1="841.54" x2="808.2" y2="841.54" stroke="#B177DE" stroke-width="1" stroke-opacity="0.6"/>
<polygon points="792.2,838.18 795.22,841.54 792.2,844.9 789.18,841.54" fill="#B177DE"/>
<text x="808.5" y="846.02" font-size="14" text-anchor="start">Spacing-15mm Height-1mm</text>
<line x1="776.7" y1="858.85" x2="808.2" y2="858.85" stroke="#CC9900" stroke-width="1" stroke-opacity="0.6"/>
<polygon points="788.17,858.85 794.22,855.83 794.22,861.87" fill="#CC9900"/>
<text x="808.5" y="863.33" font-size="14" text-anchor="start">Spacing-15mm Height-2mm</text>
<line x1="776.7" y1="876.16" x2="808.2" y2="876.16" stroke="#00CBCC" stroke-width="1" stroke-opacity="0.6"/>
<polygon points="796.23,876.16 790.18,873.14 790.18,879.18" fill="#00CBCC"/>
<text x="808.5" y="880.64" font-size="14" text-anchor="start">Spacing-15mm Height-3mm</text>
<line x1="776.7" y1="893.47" x2="808.2" y2="893.47" stroke="#7D4E4E" stroke-width="1" stroke-opacity="0.6"/>
<polygon points="794.5,894.8 792.2,896.13 789.9,894.8 789.9,892.14 792.2,890.81 794.5,892.14" fill="#7D4E4E"/>
<text x="808.5" y="897.95" font-size="14" text-anchor="start">Spacing-20mm Height-1mm</text>
<line x1="776.7" y1="910.78" x2="808.2" y2="910.78" stroke="#8E8E00" stroke-width="1" stroke-opacity="0.6"/>
<polygon points="792.2,908.4 792.79,909.96 794.46,910.04 793.16,911.09 793.6,912.71 792.2,911.79 790.8,912.71 791.24,911.09 789.94,910.04 791.61,909.96" fill="#8E8E00"/>
<text x="808.5" y="915.26" font-size="14" text-anchor="start">Spacing-20mm Height-2mm</text>
<line x1="776.7" y1="928.09" x2="808.2" y2="928.09" stroke="#FB6501" stroke-width="1" stroke-opacity="0.6"/>
<polygon points="792.2,924.95 795.18,927.12 794.04,930.63 790.36,930.63 789.22,927.12" fill="#FB6501"/>
<text x="808.5" y="932.57" font-size="14" text-anchor="start">Spacing-20mm Height-3mm</text>
<rect x="960.4" y="935.5" width="89.3" height="156" fill="#fff" stroke="#333" stroke-width="1.3"/>
<clipPath id="cbR"><rect x="758.7" y="744.1" width="489.2" height="391.5"/></clipPath>
<g clip-path="url(#cbR)">
<polyline points="766.64,1129.6 1142.81,1129.6 1168.38,1103.86 1189.26,1048.98 1206.93,871.46 1222.22,751.1" fill="none" stroke="#515151" stroke-width="0.9" stroke-opacity="0.75"/>
<polyline points="766.64,1129.6 1142.81,1125.06 1168.38,1097.81 1189.26,1042.17 1206.93,860.49 1222.22,751.1" fill="none" stroke="#F14040" stroke-width="0.9" stroke-opacity="0.75"/>
<polyline points="766.64,1129.6 1142.81,1124.68 1168.38,1096.67 1189.26,1040.27 1206.93,858.22 1222.22,751.1" fill="none" stroke="#1A6FDF" stroke-width="0.9" stroke-opacity="0.75"/>
<polyline points="766.64,1129.6 1142.81,1124.3 1168.38,1095.91 1189.26,1038.76 1206.93,856.7 1222.22,751.1" fill="none" stroke="#37AD6B" stroke-width="0.9" stroke-opacity="0.75"/>
<polyline points="766.64,1129.6 1142.81,1125.06 1168.38,1098.18 1189.26,1041.79 1206.93,860.86 1222.22,751.1" fill="none" stroke="#B177DE" stroke-width="0.9" stroke-opacity="0.75"/>
<polyline points="766.64,1129.6 1142.81,1125.06 1168.38,1097.81 1189.26,1041.03 1206.93,859.35 1222.22,751.1" fill="none" stroke="#CC9900" stroke-width="0.9" stroke-opacity="0.75"/>
<polyline points="766.64,1129.6 1142.81,1124.3 1168.38,1096.29 1189.26,1039.14 1206.93,857.46 1222.22,751.1" fill="none" stroke="#00CBCC" stroke-width="0.9" stroke-opacity="0.75"/>
<polyline points="766.64,1129.6 1142.81,1125.25 1168.38,1100.08 1189.26,1042.92 1206.93,861.24 1222.22,751.1" fill="none" stroke="#7D4E4E" stroke-width="0.9" stroke-opacity="0.75"/>
<polyline points="766.64,1129.6 1142.81,1125.06 1168.38,1098.56 1189.26,1041.41 1206.93,859.73 1222.22,751.1" fill="none" stroke="#8E8E00" stroke-width="0.9" stroke-opacity="0.75"/>
<polyline points="766.64,1129.6 1142.81,1125.06 1168.38,1097.81 1189.26,1041.03 1206.93,859.73 1222.22,751.1" fill="none" stroke="#FB6501" stroke-width="0.9" stroke-opacity="0.75"/>
<rect x="764.21" y="1127.16" width="4.87" height="4.87" fill="#515151"/>
<rect x="1140.38" y="1127.16" width="4.87" height="4.87" fill="#515151"/>
<rect x="1165.94" y="1101.43" width="4.87" height="4.87" fill="#515151"/>
<rect x="1186.83" y="1046.54" width="4.87" height="4.87" fill="#515151"/>
<rect x="1204.49" y="869.03" width="4.87" height="4.87" fill="#515151"/>
<rect x="1219.79" y="748.66" width="4.87" height="4.87" fill="#515151"/>
<ellipse cx="766.64" cy="1129.6" rx="2.78" ry="2.78" fill="#F14040"/>
<ellipse cx="1142.81" cy="1125.06" rx="2.78" ry="2.78" fill="#F14040"/>
<ellipse cx="1168.38" cy="1097.81" rx="2.78" ry="2.78" fill="#F14040"/>
<ellipse cx="1189.26" cy="1042.17" rx="2.78" ry="2.78" fill="#F14040"/>
<ellipse cx="1206.93" cy="860.49" rx="2.78" ry="2.78" fill="#F14040"/>
<ellipse cx="1222.22" cy="751.1" rx="2.78" ry="2.78" fill="#F14040"/>
<polygon points="766.64,1125.42 769.77,1131.69 763.51,1131.69" fill="#1A6FDF"/>
<polygon points="1142.81,1120.5 1145.94,1126.77 1139.68,1126.77" fill="#1A6FDF"/>
<polygon points="1168.38,1092.49 1171.51,1098.76 1165.24,1098.76" fill="#1A6FDF"/>
<polygon points="1189.26,1036.1 1192.4,1042.36 1186.13,1042.36" fill="#1A6FDF"/>
<polygon points="1206.93,854.04 1210.06,860.3 1203.79,860.3" fill="#1A6FDF"/>
<polygon points="1222.22,746.92 1225.36,753.19 1219.09,753.19" fill="#1A6FDF"/>
<polygon points="766.64,1133.78 769.77,1127.51 763.51,1127.51" fill="#37AD6B"/>
<polygon points="1142.81,1128.48 1145.94,1122.21 1139.68,1122.21" fill="#37AD6B"/>
<polygon points="1168.38,1100.09 1171.51,1093.83 1165.24,1093.83" fill="#37AD6B"/>
<polygon points="1189.26,1042.94 1192.4,1036.67 1186.13,1036.67" fill="#37AD6B"/>
<polygon points="1206.93,860.88 1210.06,854.61 1203.79,854.61" fill="#37AD6B"/>
<polygon points="1222.22,755.28 1225.36,749.01 1219.09,749.01" fill="#37AD6B"/>
<polygon points="766.64,1126.12 769.77,1129.6 766.64,1133.08 763.51,1129.6" fill="#B177DE"/>
<polygon points="1142.81,1121.58 1145.94,1125.06 1142.81,1128.54 1139.68,1125.06" fill="#B177DE"/>
<polygon points="1168.38,1094.7 1171.51,1098.18 1168.38,1101.66 1165.24,1098.18" fill="#B177DE"/>
<polygon points="1189.26,1038.31 1192.4,1041.79 1189.26,1045.27 1186.13,1041.79" fill="#B177DE"/>
<polygon points="1206.93,857.38 1210.06,860.86 1206.93,864.34 1203.79,860.86" fill="#B177DE"/>
<polygon points="1222.22,747.62 1225.36,751.1 1222.22,754.58 1219.09,751.1" fill="#B177DE"/>
<polygon points="762.47,1129.6 768.73,1126.47 768.73,1132.73" fill="#CC9900"/>
<polygon points="1138.64,1125.06 1144.9,1121.93 1144.9,1128.19" fill="#CC9900"/>
<polygon points="1164.2,1097.81 1170.46,1094.67 1170.46,1100.94" fill="#CC9900"/>
<polygon points="1185.09,1041.03 1191.35,1037.9 1191.35,1044.16" fill="#CC9900"/>
<polygon points="1202.75,859.35 1209.01,856.22 1209.01,862.48" fill="#CC9900"/>
<polygon points="1218.05,751.1 1224.31,747.97 1224.31,754.23" fill="#CC9900"/>
<polygon points="770.82,1129.6 764.55,1126.47 764.55,1132.73" fill="#00CBCC"/>
<polygon points="1146.99,1124.3 1140.72,1121.17 1140.72,1127.43" fill="#00CBCC"/>
<polygon points="1172.55,1096.29 1166.29,1093.16 1166.29,1099.42" fill="#00CBCC"/>
<polygon points="1193.44,1039.14 1187.18,1036.01 1187.18,1042.27" fill="#00CBCC"/>
<polygon points="1211.1,857.46 1204.84,854.33 1204.84,860.59" fill="#00CBCC"/>
<polygon points="1226.4,751.1 1220.14,747.97 1220.14,754.23" fill="#00CBCC"/>
<polygon points="769.03,1130.98 766.64,1132.36 764.26,1130.98 764.26,1128.22 766.64,1126.84 769.03,1128.22" fill="#7D4E4E"/>
<polygon points="1145.2,1126.62 1142.81,1128 1140.43,1126.62 1140.43,1123.87 1142.81,1122.49 1145.2,1123.87" fill="#7D4E4E"/>
<polygon points="1170.76,1101.45 1168.38,1102.83 1165.99,1101.45 1165.99,1098.7 1168.38,1097.32 1170.76,1098.7" fill="#7D4E4E"/>
<polygon points="1191.65,1044.3 1189.26,1045.68 1186.88,1044.3 1186.88,1041.55 1189.26,1040.17 1191.65,1041.55" fill="#7D4E4E"/>
<polygon points="1209.31,862.62 1206.93,864 1204.54,862.62 1204.54,859.87 1206.93,858.49 1209.31,859.87" fill="#7D4E4E"/>
<polygon points="1224.61,752.48 1222.22,753.85 1219.84,752.48 1219.84,749.72 1222.22,748.34 1224.61,749.72" fill="#7D4E4E"/>
<polygon points="766.64,1127.13 767.25,1128.76 768.99,1128.84 767.63,1129.92 768.09,1131.59 766.64,1130.64 765.19,1131.59 765.65,1129.92 764.3,1128.84 766.03,1128.76" fill="#8E8E00"/>
<polygon points="1142.81,1122.59 1143.43,1124.21 1145.16,1124.3 1143.8,1125.38 1144.26,1127.05 1142.81,1126.1 1141.36,1127.05 1141.82,1125.38 1140.47,1124.3 1142.2,1124.21" fill="#8E8E00"/>
<polygon points="1168.38,1096.1 1168.99,1097.72 1170.72,1097.8 1169.37,1098.89 1169.83,1100.56 1168.38,1099.61 1166.93,1100.56 1167.38,1098.89 1166.03,1097.8 1167.76,1097.72" fill="#8E8E00"/>
<polygon points="1189.26,1038.94 1189.88,1040.56 1191.61,1040.65 1190.26,1041.73 1190.71,1043.4 1189.26,1042.45 1187.82,1043.4 1188.27,1041.73 1186.92,1040.65 1188.65,1040.56" fill="#8E8E00"/>
<polygon points="1206.93,857.26 1207.54,858.88 1209.27,858.97 1207.92,860.05 1208.37,861.72 1206.93,860.77 1205.48,861.72 1205.93,860.05 1204.58,858.97 1206.31,858.88" fill="#8E8E00"/>
<polygon points="1222.22,748.63 1222.84,750.26 1224.57,750.34 1223.22,751.42 1223.67,753.09 1222.22,752.14 1220.77,753.09 1221.23,751.42 1219.88,750.34 1221.61,750.26" fill="#8E8E00"/>
<polygon points="766.64,1126.35 769.73,1128.6 768.55,1132.23 764.73,1132.23 763.55,1128.6" fill="#FB6501"/>
<polygon points="1142.81,1121.81 1145.9,1124.05 1144.72,1127.69 1140.9,1127.69 1139.72,1124.05" fill="#FB6501"/>
<polygon points="1168.38,1094.56 1171.47,1096.8 1170.29,1100.43 1166.47,1100.43 1165.29,1096.8" fill="#FB6501"/>
<polygon points="1189.26,1037.78 1192.35,1040.03 1191.17,1043.66 1187.36,1043.66 1186.18,1040.03" fill="#FB6501"/>
<polygon points="1206.93,856.48 1210.01,858.73 1208.83,862.36 1205.02,862.36 1203.84,858.73" fill="#FB6501"/>
<polygon points="1222.22,747.85 1225.31,750.1 1224.13,753.73 1220.31,753.73 1219.13,750.1" fill="#FB6501"/>
</g>
<clipPath id="ibR"><rect x="969.2" y="951.4" width="78.5" height="138.1"/></clipPath>
<g clip-path="url(#ibR)">
<polyline points="450.64,1066.5 987.8,1066.5 1024.31,986.53 1054.13,816.01 1079.35,264.47 1101.2,-109.5" fill="none" stroke="#515151" stroke-width="1.7"/>
<polyline points="450.64,1066.5 987.8,1052.39 1024.31,967.72 1054.13,794.84 1079.35,230.36 1101.2,-109.5" fill="none" stroke="#F14040" stroke-width="1.7"/>
<polyline points="450.64,1066.5 987.8,1051.21 1024.31,964.19 1054.13,788.96 1079.35,223.31 1101.2,-109.5" fill="none" stroke="#1A6FDF" stroke-width="1.7"/>
<polyline points="450.64,1066.5 987.8,1050.04 1024.31,961.84 1054.13,784.26 1079.35,218.6 1101.2,-109.5" fill="none" stroke="#37AD6B" stroke-width="1.7"/>
<polyline points="450.64,1066.5 987.8,1052.39 1024.31,968.89 1054.13,793.67 1079.35,231.54 1101.2,-109.5" fill="none" stroke="#B177DE" stroke-width="1.7"/>
<polyline points="450.64,1066.5 987.8,1052.39 1024.31,967.72 1054.13,791.32 1079.35,226.84 1101.2,-109.5" fill="none" stroke="#CC9900" stroke-width="1.7"/>
<polyline points="450.64,1066.5 987.8,1050.04 1024.31,963.01 1054.13,785.44 1079.35,220.96 1101.2,-109.5" fill="none" stroke="#00CBCC" stroke-width="1.7"/>
<polyline points="450.64,1066.5 987.8,1052.98 1024.31,974.77 1054.13,797.2 1079.35,232.72 1101.2,-109.5" fill="none" stroke="#7D4E4E" stroke-width="1.7"/>
<polyline points="450.64,1066.5 987.8,1052.39 1024.31,970.07 1054.13,792.49 1079.35,228.01 1101.2,-109.5" fill="none" stroke="#8E8E00" stroke-width="1.7"/>
<polyline points="450.64,1066.5 987.8,1052.39 1024.31,967.72 1054.13,791.32 1079.35,228.01 1101.2,-109.5" fill="none" stroke="#FB6501" stroke-width="1.7"/>
</g>
<rect x="980.66" y="1059.36" width="14.28" height="14.28" fill="#515151"/>
<rect x="1017.17" y="979.39" width="14.28" height="14.28" fill="#515151"/>
<ellipse cx="987.8" cy="1052.39" rx="8.16" ry="8.16" fill="#F14040"/>
<ellipse cx="1024.31" cy="967.72" rx="8.16" ry="8.16" fill="#F14040"/>
<polygon points="987.8,1038.97 996.98,1057.33 978.62,1057.33" fill="#1A6FDF"/>
<polygon points="1024.31,951.95 1033.49,970.31 1015.13,970.31" fill="#1A6FDF"/>
<polygon points="987.8,1062.28 996.98,1043.92 978.62,1043.92" fill="#37AD6B"/>
<polygon points="1024.31,974.08 1033.49,955.72 1015.13,955.72" fill="#37AD6B"/>
<polygon points="987.8,1042.19 996.98,1052.39 987.8,1062.59 978.62,1052.39" fill="#B177DE"/>
<polygon points="1024.31,958.69 1033.49,968.89 1024.31,979.09 1015.13,968.89" fill="#B177DE"/>
<polygon points="975.56,1052.39 993.92,1043.21 993.92,1061.57" fill="#CC9900"/>
<polygon points="1012.07,967.72 1030.43,958.54 1030.43,976.9" fill="#CC9900"/>
<polygon points="1000.04,1050.04 981.68,1040.86 981.68,1059.22" fill="#00CBCC"/>
<polygon points="1036.55,963.01 1018.19,953.83 1018.19,972.19" fill="#00CBCC"/>
<polygon points="994.79,1057.01 987.8,1061.05 980.81,1057.01 980.81,1048.94 987.8,1044.9 994.79,1048.94" fill="#7D4E4E"/>
<polygon points="1031.3,978.81 1024.31,982.85 1017.31,978.81 1017.31,970.73 1024.31,966.7 1031.3,970.73" fill="#7D4E4E"/>
<polygon points="987.8,1045.16 989.6,1049.91 994.67,1050.16 990.71,1053.33 992.05,1058.23 987.8,1055.45 983.55,1058.23 984.89,1053.33 980.93,1050.16 986,1049.91" fill="#8E8E00"/>
<polygon points="1024.31,962.84 1026.1,967.59 1031.18,967.84 1027.22,971.01 1028.55,975.91 1024.31,973.13 1020.06,975.91 1021.4,971.01 1017.43,967.84 1022.51,967.59" fill="#8E8E00"/>
<polygon points="987.8,1042.87 996.85,1049.45 993.4,1060.09 982.2,1060.09 978.75,1049.45" fill="#FB6501"/>
<polygon points="1024.31,958.2 1033.36,964.77 1029.9,975.42 1018.71,975.42 1015.25,964.77" fill="#FB6501"/>
<rect x="758.7" y="744.1" width="489.2" height="391.5" fill="none" stroke="#000" stroke-width="1.6"/>
<path d="M758.7 1129.6h8M758.7 1053.9h8M758.7 978.2h8M758.7 902.5h8M758.7 826.8h8M758.7 751.1h8M799.6 1135.6v-8M1063.4 1135.6v-8M774.04 1135.6v-4.4M787.53 1135.6v-4.4M879.01 1135.6v-4.4M925.46 1135.6v-4.4M958.42 1135.6v-4.4M983.99 1135.6v-4.4M1004.88 1135.6v-4.4M1022.54 1135.6v-4.4M1037.84 1135.6v-4.4M1051.33 1135.6v-4.4M1142.81 1135.6v-4.4M1189.26 1135.6v-4.4M1222.22 1135.6v-4.4" stroke="#000" stroke-width="1.6" fill="none"/>
<text x="751" y="1135.9" font-size="18.8" text-anchor="end">0</text>
<text x="751" y="1060.2" font-size="18.8" text-anchor="end">20</text>
<text x="751" y="984.5" font-size="18.8" text-anchor="end">40</text>
<text x="751" y="908.8" font-size="18.8" text-anchor="end">60</text>
<text x="751" y="833.1" font-size="18.8" text-anchor="end">80</text>
<text x="751" y="757.4" font-size="18.8" text-anchor="end">100</text>
<text x="799.6" y="1159.7" font-size="18.8" text-anchor="middle">0.1</text>
<text x="1063.4" y="1159.7" font-size="18.8" text-anchor="middle">1</text>
<text x="1003.3" y="1192.2" font-size="20.5" text-anchor="middle">Grain size(mm)</text>
<text x="0" y="0" font-size="20.5" text-anchor="middle" transform="translate(714.2,940.7) rotate(-90)">Finer Percent(%)</text>
<text x="789.8" y="1105.1" font-size="14.9" text-anchor="start" font-weight="bold">2 layer</text>
<text x="1054.55" y="1105.2" font-size="13" text-anchor="start" font-weight="bold">Crushing</text>
<line x1="1148.7" y1="1111.8" x2="1061.79" y2="1074.45" stroke="#333" stroke-width="1"/>
<polygon points="1052.6,1070.5 1063.05,1071.51 1060.52,1077.39" fill="#000"/>
<path d="M80.84 1348.8V1742.9M94.38 1348.8V1742.9M186.21 1348.8V1742.9M232.84 1348.8V1742.9M265.93 1348.8V1742.9M291.59 1348.8V1742.9M312.55 1348.8V1742.9M330.28 1348.8V1742.9M345.64 1348.8V1742.9M359.18 1348.8V1742.9M451.01 1348.8V1742.9M497.64 1348.8V1742.9M530.73 1348.8V1742.9" stroke="#d9d9d9" stroke-width="1" stroke-dasharray="2 2" fill="none"/>
<path d="M106.5 1348.8V1742.9M371.3 1348.8V1742.9M65.5 1735.6H556.4M65.5 1659.66H556.4M65.5 1583.72H556.4M65.5 1507.78H556.4M65.5 1431.84H556.4M65.5 1355.9H556.4" stroke="#cbcbcb" stroke-width="1.1" fill="none"/>
<line x1="83.9" y1="1376.9" x2="115" y2="1376.9" stroke="#515151" stroke-width="1" stroke-opacity="0.6"/>
<rect x="97.15" y="1374.55" width="4.7" height="4.7" fill="#515151"/>
<text x="115.8" y="1381.36" font-size="13.95" text-anchor="start">initiai grain size distribution</text>
<line x1="83.9" y1="1394.32" x2="115" y2="1394.32" stroke="#F14040" stroke-width="1" stroke-opacity="0.6"/>
<ellipse cx="99.5" cy="1394.32" rx="2.69" ry="2.69" fill="#F14040"/>
<text x="115.8" y="1398.78" font-size="13.95" text-anchor="start">Spacing-10mm Height-1mm</text>
<line x1="83.9" y1="1411.74" x2="115" y2="1411.74" stroke="#1A6FDF" stroke-width="1" stroke-opacity="0.6"/>
<polygon points="99.5,1407.71 102.52,1413.76 96.48,1413.76" fill="#1A6FDF"/>
<text x="115.8" y="1416.2" font-size="13.95" text-anchor="start">Spacing-10mm Height-2mm</text>
<line x1="83.9" y1="1429.16" x2="115" y2="1429.16" stroke="#37AD6B" stroke-width="1" stroke-opacity="0.6"/>
<polygon points="99.5,1433.19 102.52,1427.14 96.48,1427.14" fill="#37AD6B"/>
<text x="115.8" y="1433.62" font-size="13.95" text-anchor="start">Spacing-10mm Height-3mm</text>
<line x1="83.9" y1="1446.58" x2="115" y2="1446.58" stroke="#B177DE" stroke-width="1" stroke-opacity="0.6"/>
<polygon points="99.5,1443.22 102.52,1446.58 99.5,1449.94 96.48,1446.58" fill="#B177DE"/>
<text x="115.8" y="1451.04" font-size="13.95" text-anchor="start">Spacing-15mm Height-1mm</text>
<line x1="83.9" y1="1464" x2="115" y2="1464" stroke="#CC9900" stroke-width="1" stroke-opacity="0.6"/>
<polygon points="95.47,1464 101.52,1460.98 101.52,1467.02" fill="#CC9900"/>
<text x="115.8" y="1468.46" font-size="13.95" text-anchor="start">Spacing-15mm Height-2mm</text>
<line x1="83.9" y1="1481.42" x2="115" y2="1481.42" stroke="#00CBCC" stroke-width="1" stroke-opacity="0.6"/>
<polygon points="103.53,1481.42 97.48,1478.4 97.48,1484.44" fill="#00CBCC"/>
<text x="115.8" y="1485.88" font-size="13.95" text-anchor="start">Spacing-15mm Height-3mm</text>
<line x1="83.9" y1="1498.84" x2="115" y2="1498.84" stroke="#7D4E4E" stroke-width="1" stroke-opacity="0.6"/>
<polygon points="101.8,1500.17 99.5,1501.5 97.2,1500.17 97.2,1497.51 99.5,1496.18 101.8,1497.51" fill="#7D4E4E"/>
<text x="115.8" y="1503.3" font-size="13.95" text-anchor="start">Spacing-20mm Height-1mm</text>
<line x1="83.9" y1="1516.26" x2="115" y2="1516.26" stroke="#8E8E00" stroke-width="1" stroke-opacity="0.6"/>
<polygon points="99.5,1513.88 100.09,1515.44 101.76,1515.52 100.46,1516.57 100.9,1518.19 99.5,1517.27 98.1,1518.19 98.54,1516.57 97.24,1515.52 98.91,1515.44" fill="#8E8E00"/>
<text x="115.8" y="1520.72" font-size="13.95" text-anchor="start">Spacing-20mm Height-2mm</text>
<line x1="83.9" y1="1533.68" x2="115" y2="1533.68" stroke="#FB6501" stroke-width="1" stroke-opacity="0.6"/>
<polygon points="99.5,1530.54 102.48,1532.71 101.34,1536.22 97.66,1536.22 96.52,1532.71" fill="#FB6501"/>
<text x="115.8" y="1538.14" font-size="13.95" text-anchor="start">Spacing-20mm Height-3mm</text>
<rect x="266.9" y="1542.1" width="90.5" height="157.8" fill="#fff" stroke="#333" stroke-width="1.3"/>
<clipPath id="ccL"><rect x="65.5" y="1348.8" width="490.9" height="394.1"/></clipPath>
<g clip-path="url(#ccL)">
<polyline points="73.42,1735.6 451.01,1735.6 476.67,1709.78 497.64,1654.72 515.37,1476.64 530.73,1355.9" fill="none" stroke="#515151" stroke-width="0.9" stroke-opacity="0.75"/>
<polyline points="73.42,1735.6 451.01,1730.78 476.67,1704.46 497.64,1647.89 515.37,1466.77 530.73,1355.9" fill="none" stroke="#F14040" stroke-width="0.9" stroke-opacity="0.75"/>
<polyline points="73.42,1735.6 451.01,1730.4 476.67,1703.33 497.64,1645.99 515.37,1464.49 530.73,1355.9" fill="none" stroke="#1A6FDF" stroke-width="0.9" stroke-opacity="0.75"/>
<polyline points="73.42,1735.6 451.01,1730.02 476.67,1702.57 497.64,1644.47 515.37,1462.98 530.73,1355.9" fill="none" stroke="#37AD6B" stroke-width="0.9" stroke-opacity="0.75"/>
<polyline points="73.42,1735.6 451.01,1730.78 476.67,1704.84 497.64,1647.51 515.37,1467.15 530.73,1355.9" fill="none" stroke="#B177DE" stroke-width="0.9" stroke-opacity="0.75"/>
<polyline points="73.42,1735.6 451.01,1730.78 476.67,1704.46 497.64,1646.75 515.37,1465.63 530.73,1355.9" fill="none" stroke="#CC9900" stroke-width="0.9" stroke-opacity="0.75"/>
<polyline points="73.42,1735.6 451.01,1730.02 476.67,1702.95 497.64,1644.85 515.37,1463.73 530.73,1355.9" fill="none" stroke="#00CBCC" stroke-width="0.9" stroke-opacity="0.75"/>
<polyline points="73.42,1735.6 451.01,1730.97 476.67,1706.74 497.64,1648.65 515.37,1467.53 530.73,1355.9" fill="none" stroke="#7D4E4E" stroke-width="0.9" stroke-opacity="0.75"/>
<polyline points="73.42,1735.6 451.01,1730.78 476.67,1705.22 497.64,1647.13 515.37,1466.01 530.73,1355.9" fill="none" stroke="#8E8E00" stroke-width="0.9" stroke-opacity="0.75"/>
<polyline points="73.42,1735.6 451.01,1730.78 476.67,1704.46 497.64,1646.75 515.37,1466.01 530.73,1355.9" fill="none" stroke="#FB6501" stroke-width="0.9" stroke-opacity="0.75"/>
<rect x="70.98" y="1733.16" width="4.87" height="4.87" fill="#515151"/>
<rect x="448.58" y="1733.16" width="4.87" height="4.87" fill="#515151"/>
<rect x="474.24" y="1707.34" width="4.87" height="4.87" fill="#515151"/>
<rect x="495.21" y="1652.29" width="4.87" height="4.87" fill="#515151"/>
<rect x="512.93" y="1474.21" width="4.87" height="4.87" fill="#515151"/>
<rect x="528.29" y="1353.46" width="4.87" height="4.87" fill="#515151"/>
<ellipse cx="73.42" cy="1735.6" rx="2.78" ry="2.78" fill="#F14040"/>
<ellipse cx="451.01" cy="1730.78" rx="2.78" ry="2.78" fill="#F14040"/>
<ellipse cx="476.67" cy="1704.46" rx="2.78" ry="2.78" fill="#F14040"/>
<ellipse cx="497.64" cy="1647.89" rx="2.78" ry="2.78" fill="#F14040"/>
<ellipse cx="515.37" cy="1466.77" rx="2.78" ry="2.78" fill="#F14040"/>
<ellipse cx="530.73" cy="1355.9" rx="2.78" ry="2.78" fill="#F14040"/>
<polygon points="73.42,1731.42 76.55,1737.69 70.28,1737.69" fill="#1A6FDF"/>
<polygon points="451.01,1726.22 454.14,1732.49 447.88,1732.49" fill="#1A6FDF"/>
<polygon points="476.67,1699.15 479.81,1705.41 473.54,1705.41" fill="#1A6FDF"/>
<polygon points="497.64,1641.81 500.77,1648.08 494.51,1648.08" fill="#1A6FDF"/>
<polygon points="515.37,1460.32 518.5,1466.58 512.24,1466.58" fill="#1A6FDF"/>
<polygon points="530.73,1351.72 533.86,1357.99 527.59,1357.99" fill="#1A6FDF"/>
<polygon points="73.42,1739.78 76.55,1733.51 70.28,1733.51" fill="#37AD6B"/>
<polygon points="451.01,1734.19 454.14,1727.93 447.88,1727.93" fill="#37AD6B"/>
<polygon points="476.67,1706.74 479.81,1700.48 473.54,1700.48" fill="#37AD6B"/>
<polygon points="497.64,1648.65 500.77,1642.38 494.51,1642.38" fill="#37AD6B"/>
<polygon points="515.37,1467.15 518.5,1460.89 512.24,1460.89" fill="#37AD6B"/>
<polygon points="530.73,1360.08 533.86,1353.81 527.59,1353.81" fill="#37AD6B"/>
<polygon points="73.42,1732.12 76.55,1735.6 73.42,1739.08 70.28,1735.6" fill="#B177DE"/>
<polygon points="451.01,1727.3 454.14,1730.78 451.01,1734.26 447.88,1730.78" fill="#B177DE"/>
<polygon points="476.67,1701.36 479.81,1704.84 476.67,1708.32 473.54,1704.84" fill="#B177DE"/>
<polygon points="497.64,1644.03 500.77,1647.51 497.64,1650.99 494.51,1647.51" fill="#B177DE"/>
<polygon points="515.37,1463.67 518.5,1467.15 515.37,1470.63 512.24,1467.15" fill="#B177DE"/>
<polygon points="530.73,1352.42 533.86,1355.9 530.73,1359.38 527.59,1355.9" fill="#B177DE"/>
<polygon points="69.24,1735.6 75.5,1732.47 75.5,1738.73" fill="#CC9900"/>
<polygon points="446.84,1730.78 453.1,1727.65 453.1,1733.91" fill="#CC9900"/>
<polygon points="472.5,1704.46 478.76,1701.33 478.76,1707.6" fill="#CC9900"/>
<polygon points="493.47,1646.75 499.73,1643.62 499.73,1649.88" fill="#CC9900"/>
<polygon points="511.19,1465.63 517.46,1462.5 517.46,1468.77" fill="#CC9900"/>
<polygon points="526.55,1355.9 532.81,1352.77 532.81,1359.03" fill="#CC9900"/>
<polygon points="77.59,1735.6 71.33,1732.47 71.33,1738.73" fill="#00CBCC"/>
<polygon points="455.19,1730.02 448.92,1726.89 448.92,1733.15" fill="#00CBCC"/>
<polygon points="480.85,1702.95 474.59,1699.81 474.59,1706.08" fill="#00CBCC"/>
<polygon points="501.82,1644.85 495.55,1641.72 495.55,1647.98" fill="#00CBCC"/>
<polygon points="519.55,1463.73 513.28,1460.6 513.28,1466.87" fill="#00CBCC"/>
<polygon points="534.9,1355.9 528.64,1352.77 528.64,1359.03" fill="#00CBCC"/>
<polygon points="75.8,1736.98 73.42,1738.36 71.03,1736.98 71.03,1734.22 73.42,1732.84 75.8,1734.22" fill="#7D4E4E"/>
<polygon points="453.4,1732.35 451.01,1733.72 448.63,1732.35 448.63,1729.59 451.01,1728.21 453.4,1729.59" fill="#7D4E4E"/>
<polygon points="479.06,1708.12 476.67,1709.5 474.29,1708.12 474.29,1705.37 476.67,1703.99 479.06,1705.37" fill="#7D4E4E"/>
<polygon points="500.03,1650.03 497.64,1651.4 495.26,1650.03 495.26,1647.27 497.64,1645.89 500.03,1647.27" fill="#7D4E4E"/>
<polygon points="517.76,1468.91 515.37,1470.29 512.98,1468.91 512.98,1466.15 515.37,1464.78 517.76,1466.15" fill="#7D4E4E"/>
<polygon points="533.11,1357.28 530.73,1358.65 528.34,1357.28 528.34,1354.52 530.73,1353.14 533.11,1354.52" fill="#7D4E4E"/>
<polygon points="73.42,1733.13 74.03,1734.76 75.76,1734.84 74.41,1735.92 74.87,1737.59 73.42,1736.64 71.97,1737.59 72.42,1735.92 71.07,1734.84 72.8,1734.76" fill="#8E8E00"/>
<polygon points="451.01,1728.31 451.63,1729.93 453.36,1730.02 452.01,1731.1 452.46,1732.77 451.01,1731.82 449.56,1732.77 450.02,1731.1 448.67,1730.02 450.4,1729.93" fill="#8E8E00"/>
<polygon points="476.67,1702.76 477.29,1704.38 479.02,1704.46 477.67,1705.55 478.12,1707.22 476.67,1706.27 475.23,1707.22 475.68,1705.55 474.33,1704.46 476.06,1704.38" fill="#8E8E00"/>
<polygon points="497.64,1644.66 498.26,1646.29 499.99,1646.37 498.63,1647.45 499.09,1649.12 497.64,1648.17 496.19,1649.12 496.65,1647.45 495.3,1646.37 497.03,1646.29" fill="#8E8E00"/>
<polygon points="515.37,1463.55 515.98,1465.17 517.71,1465.25 516.36,1466.34 516.82,1468.01 515.37,1467.06 513.92,1468.01 514.38,1466.34 513.02,1465.25 514.76,1465.17" fill="#8E8E00"/>
<polygon points="530.73,1353.43 531.34,1355.06 533.07,1355.14 531.72,1356.22 532.17,1357.89 530.73,1356.94 529.28,1357.89 529.73,1356.22 528.38,1355.14 530.11,1355.06" fill="#8E8E00"/>
<polygon points="73.42,1732.35 76.51,1734.6 75.33,1738.23 71.51,1738.23 70.33,1734.6" fill="#FB6501"/>
<polygon points="451.01,1727.53 454.1,1729.77 452.92,1733.41 449.1,1733.41 447.92,1729.77" fill="#FB6501"/>
<polygon points="476.67,1701.22 479.76,1703.46 478.58,1707.09 474.77,1707.09 473.59,1703.46" fill="#FB6501"/>
<polygon points="497.64,1643.5 500.73,1645.75 499.55,1649.38 495.73,1649.38 494.55,1645.75" fill="#FB6501"/>
<polygon points="515.37,1462.76 518.46,1465.01 517.28,1468.64 513.46,1468.64 512.28,1465.01" fill="#FB6501"/>
<polygon points="530.73,1352.65 533.81,1354.9 532.63,1358.53 528.82,1358.53 527.64,1354.9" fill="#FB6501"/>
</g>
<clipPath id="icL"><rect x="276.1" y="1558" width="79.3" height="139.9"/></clipPath>
<g clip-path="url(#icL)">
<polyline points="-219.15,1674.2 294.2,1674.2 329.09,1590.56 357.59,1412.21 381.69,835.34 402.57,444.2" fill="none" stroke="#515151" stroke-width="1.7"/>
<polyline points="-219.15,1674.2 294.2,1658.58 329.09,1573.34 357.59,1390.07 381.69,803.36 402.57,444.2" fill="none" stroke="#F14040" stroke-width="1.7"/>
<polyline points="-219.15,1674.2 294.2,1657.35 329.09,1569.65 357.59,1383.92 381.69,795.98 402.57,444.2" fill="none" stroke="#1A6FDF" stroke-width="1.7"/>
<polyline points="-219.15,1674.2 294.2,1656.12 329.09,1567.19 357.59,1379 381.69,791.06 402.57,444.2" fill="none" stroke="#37AD6B" stroke-width="1.7"/>
<polyline points="-219.15,1674.2 294.2,1658.58 329.09,1574.57 357.59,1388.84 381.69,804.59 402.57,444.2" fill="none" stroke="#B177DE" stroke-width="1.7"/>
<polyline points="-219.15,1674.2 294.2,1658.58 329.09,1573.34 357.59,1386.38 381.69,799.67 402.57,444.2" fill="none" stroke="#CC9900" stroke-width="1.7"/>
<polyline points="-219.15,1674.2 294.2,1656.12 329.09,1568.42 357.59,1380.23 381.69,793.52 402.57,444.2" fill="none" stroke="#00CBCC" stroke-width="1.7"/>
<polyline points="-219.15,1674.2 294.2,1659.19 329.09,1580.72 357.59,1392.53 381.69,805.82 402.57,444.2" fill="none" stroke="#7D4E4E" stroke-width="1.7"/>
<polyline points="-219.15,1674.2 294.2,1658.58 329.09,1575.8 357.59,1387.61 381.69,800.9 402.57,444.2" fill="none" stroke="#8E8E00" stroke-width="1.7"/>
<polyline points="-219.15,1674.2 294.2,1658.58 329.09,1573.34 357.59,1386.38 381.69,800.9 402.57,444.2" fill="none" stroke="#FB6501" stroke-width="1.7"/>
</g>
<rect x="287.06" y="1667.06" width="14.28" height="14.28" fill="#515151"/>
<rect x="321.95" y="1583.42" width="14.28" height="14.28" fill="#515151"/>
<ellipse cx="294.2" cy="1658.58" rx="8.16" ry="8.16" fill="#F14040"/>
<ellipse cx="329.09" cy="1573.34" rx="8.16" ry="8.16" fill="#F14040"/>
<polygon points="294.2,1645.11 303.38,1663.47 285.02,1663.47" fill="#1A6FDF"/>
<polygon points="329.09,1557.41 338.27,1575.77 319.91,1575.77" fill="#1A6FDF"/>
<polygon points="294.2,1668.36 303.38,1650 285.02,1650" fill="#37AD6B"/>
<polygon points="329.09,1579.43 338.27,1561.07 319.91,1561.07" fill="#37AD6B"/>
<polygon points="294.2,1648.38 303.38,1658.58 294.2,1668.78 285.02,1658.58" fill="#B177DE"/>
<polygon points="329.09,1564.37 338.27,1574.57 329.09,1584.77 319.91,1574.57" fill="#B177DE"/>
<polygon points="281.96,1658.58 300.32,1649.4 300.32,1667.76" fill="#CC9900"/>
<polygon points="316.85,1573.34 335.21,1564.16 335.21,1582.52" fill="#CC9900"/>
<polygon points="306.44,1656.12 288.08,1646.94 288.08,1665.3" fill="#00CBCC"/>
<polygon points="341.33,1568.42 322.97,1559.24 322.97,1577.6" fill="#00CBCC"/>
<polygon points="301.19,1663.23 294.2,1667.27 287.21,1663.23 287.21,1655.16 294.2,1651.12 301.19,1655.16" fill="#7D4E4E"/>
<polygon points="336.08,1584.76 329.09,1588.8 322.09,1584.76 322.09,1576.68 329.09,1572.64 336.08,1576.68" fill="#7D4E4E"/>
<polygon points="294.2,1651.35 296,1656.1 301.07,1656.35 297.11,1659.52 298.45,1664.42 294.2,1661.64 289.95,1664.42 291.29,1659.52 287.33,1656.35 292.4,1656.1" fill="#8E8E00"/>
<polygon points="329.09,1568.58 330.89,1573.32 335.96,1573.57 332,1576.75 333.33,1581.65 329.09,1578.86 324.84,1581.65 326.18,1576.75 322.22,1573.57 327.29,1573.32" fill="#8E8E00"/>
<polygon points="294.2,1649.06 303.25,1655.64 299.8,1666.28 288.6,1666.28 285.15,1655.64" fill="#FB6501"/>
<polygon points="329.09,1563.82 338.14,1570.4 334.68,1581.04 323.49,1581.04 320.03,1570.4" fill="#FB6501"/>
<rect x="65.5" y="1348.8" width="490.9" height="394.1" fill="none" stroke="#000" stroke-width="1.6"/>
<path d="M65.5 1735.6h8M65.5 1659.66h8M65.5 1583.72h8M65.5 1507.78h8M65.5 1431.84h8M65.5 1355.9h8M106.5 1742.9v-8M371.3 1742.9v-8M80.84 1742.9v-4.4M94.38 1742.9v-4.4M186.21 1742.9v-4.4M232.84 1742.9v-4.4M265.93 1742.9v-4.4M291.59 1742.9v-4.4M312.55 1742.9v-4.4M330.28 1742.9v-4.4M345.64 1742.9v-4.4M359.18 1742.9v-4.4M451.01 1742.9v-4.4M497.64 1742.9v-4.4M530.73 1742.9v-4.4" stroke="#000" stroke-width="1.6" fill="none"/>
<text x="57.4" y="1741.9" font-size="18.8" text-anchor="end">0</text>
<text x="57.4" y="1665.96" font-size="18.8" text-anchor="end">20</text>
<text x="57.4" y="1590.02" font-size="18.8" text-anchor="end">40</text>
<text x="57.4" y="1514.08" font-size="18.8" text-anchor="end">60</text>
<text x="57.4" y="1438.14" font-size="18.8" text-anchor="end">80</text>
<text x="57.4" y="1362.2" font-size="18.8" text-anchor="end">100</text>
<text x="106.5" y="1766.6" font-size="18.8" text-anchor="middle">0.1</text>
<text x="371.3" y="1766.6" font-size="18.8" text-anchor="middle">1</text>
<text x="311.1" y="1798.2" font-size="20.5" text-anchor="middle">Grain size(mm)</text>
<text x="0" y="0" font-size="20.5" text-anchor="middle" transform="translate(20.8,1545.6) rotate(-90)">Finer Percent(%)</text>
<text x="97.5" y="1710.9" font-size="14.9" text-anchor="start" font-weight="bold">1 layer</text>
<text x="359.75" y="1712.4" font-size="13" text-anchor="start" font-weight="bold">Crushing</text>
<line x1="457.6" y1="1718.3" x2="368.86" y2="1679.51" stroke="#333" stroke-width="1"/>
<polygon points="359.7,1675.5 370.14,1676.57 367.58,1682.44" fill="#000"/>
<path d="M773.58 1355.5V1738.7M786.79 1355.5V1738.7M876.33 1355.5V1738.7M921.79 1355.5V1738.7M954.05 1355.5V1738.7M979.07 1355.5V1738.7M999.52 1355.5V1738.7M1016.8 1355.5V1738.7M1031.78 1355.5V1738.7M1044.99 1355.5V1738.7M1134.53 1355.5V1738.7M1179.99 1355.5V1738.7M1212.25 1355.5V1738.7" stroke="#d9d9d9" stroke-width="1" stroke-dasharray="2 2" fill="none"/>
<path d="M798.6 1355.5V1738.7M1056.8 1355.5V1738.7M758.7 1731.7H1237.1M758.7 1658H1237.1M758.7 1584.3H1237.1M758.7 1510.6H1237.1M758.7 1436.9H1237.1M758.7 1363.2H1237.1" stroke="#cbcbcb" stroke-width="1.1" fill="none"/>
<line x1="776.3" y1="1383.2" x2="807.4" y2="1383.2" stroke="#515151" stroke-width="1" stroke-opacity="0.6"/>
<rect x="789.45" y="1380.85" width="4.7" height="4.7" fill="#515151"/>
<text x="807.7" y="1387.58" font-size="13.7" text-anchor="start">initiai grain size distribution</text>
<line x1="776.3" y1="1400.13" x2="807.4" y2="1400.13" stroke="#F14040" stroke-width="1" stroke-opacity="0.6"/>
<ellipse cx="791.8" cy="1400.13" rx="2.69" ry="2.69" fill="#F14040"/>
<text x="807.7" y="1404.51" font-size="13.7" text-anchor="start">Spacing-10mm Height-1mm</text>
<line x1="776.3" y1="1417.06" x2="807.4" y2="1417.06" stroke="#1A6FDF" stroke-width="1" stroke-opacity="0.6"/>
<polygon points="791.8,1413.03 794.82,1419.08 788.78,1419.08" fill="#1A6FDF"/>
<text x="807.7" y="1421.44" font-size="13.7" text-anchor="start">Spacing-10mm Height-2mm</text>
<line x1="776.3" y1="1433.99" x2="807.4" y2="1433.99" stroke="#37AD6B" stroke-width="1" stroke-opacity="0.6"/>
<polygon points="791.8,1438.02 794.82,1431.97 788.78,1431.97" fill="#37AD6B"/>
<text x="807.7" y="1438.37" font-size="13.7" text-anchor="start">Spacing-10mm Height-3mm</text>
<line x1="776.3" y1="1450.92" x2="807.4" y2="1450.92" stroke="#B177DE" stroke-width="1" stroke-opacity="0.6"/>
<polygon points="791.8,1447.56 794.82,1450.92 791.8,1454.28 788.78,1450.92" fill="#B177DE"/>
<text x="807.7" y="1455.3" font-size="13.7" text-anchor="start">Spacing-15mm Height-1mm</text>
<line x1="776.3" y1="1467.85" x2="807.4" y2="1467.85" stroke="#CC9900" stroke-width="1" stroke-opacity="0.6"/>
<polygon points="787.77,1467.85 793.82,1464.83 793.82,1470.87" fill="#CC9900"/>
<text x="807.7" y="1472.23" font-size="13.7" text-anchor="start">Spacing-15mm Height-2mm</text>
<line x1="776.3" y1="1484.78" x2="807.4" y2="1484.78" stroke="#00CBCC" stroke-width="1" stroke-opacity="0.6"/>
<polygon points="795.83,1484.78 789.78,1481.76 789.78,1487.8" fill="#00CBCC"/>
<text x="807.7" y="1489.16" font-size="13.7" text-anchor="start">Spacing-15mm Height-3mm</text>
<line x1="776.3" y1="1501.71" x2="807.4" y2="1501.71" stroke="#7D4E4E" stroke-width="1" stroke-opacity="0.6"/>
<polygon points="794.1,1503.04 791.8,1504.37 789.5,1503.04 789.5,1500.38 791.8,1499.05 794.1,1500.38" fill="#7D4E4E"/>
<text x="807.7" y="1506.09" font-size="13.7" text-anchor="start">Spacing-20mm Height-1mm</text>
<line x1="776.3" y1="1518.64" x2="807.4" y2="1518.64" stroke="#8E8E00" stroke-width="1" stroke-opacity="0.6"/>
<polygon points="791.8,1516.26 792.39,1517.82 794.06,1517.9 792.76,1518.95 793.2,1520.57 791.8,1519.65 790.4,1520.57 790.84,1518.95 789.54,1517.9 791.21,1517.82" fill="#8E8E00"/>
<text x="807.7" y="1523.02" font-size="13.7" text-anchor="start">Spacing-20mm Height-2mm</text>
<line x1="776.3" y1="1535.57" x2="807.4" y2="1535.57" stroke="#FB6501" stroke-width="1" stroke-opacity="0.6"/>
<polygon points="791.8,1532.43 794.78,1534.6 793.64,1538.11 789.96,1538.11 788.82,1534.6" fill="#FB6501"/>
<text x="807.7" y="1539.95" font-size="13.7" text-anchor="start">Spacing-20mm Height-3mm</text>
<rect x="952.2" y="1543.3" width="89.3" height="155" fill="#fff" stroke="#333" stroke-width="1.3"/>
<clipPath id="ccR"><rect x="758.7" y="1355.5" width="478.4" height="383.2"/></clipPath>
<g clip-path="url(#ccR)">
<polyline points="766.34,1731.7 1134.53,1731.7 1159.55,1706.64 1179.99,1653.21 1197.28,1480.38 1212.25,1363.2" fill="none" stroke="#515151" stroke-width="0.9" stroke-opacity="0.75"/>
<polyline points="766.34,1731.7 1134.53,1727.35 1159.55,1700.38 1179.99,1645.47 1197.28,1467.12 1212.25,1363.2" fill="none" stroke="#F14040" stroke-width="0.9" stroke-opacity="0.75"/>
<polyline points="766.34,1731.7 1134.53,1726.98 1159.55,1699.27 1179.99,1643.63 1197.28,1464.91 1212.25,1363.2" fill="none" stroke="#1A6FDF" stroke-width="0.9" stroke-opacity="0.75"/>
<polyline points="766.34,1731.7 1134.53,1726.61 1159.55,1698.54 1179.99,1642.15 1197.28,1463.43 1212.25,1363.2" fill="none" stroke="#37AD6B" stroke-width="0.9" stroke-opacity="0.75"/>
<polyline points="766.34,1731.7 1134.53,1727.35 1159.55,1700.75 1179.99,1645.1 1197.28,1467.49 1212.25,1363.2" fill="none" stroke="#B177DE" stroke-width="0.9" stroke-opacity="0.75"/>
<polyline points="766.34,1731.7 1134.53,1727.35 1159.55,1700.38 1179.99,1644.37 1197.28,1466.01 1212.25,1363.2" fill="none" stroke="#CC9900" stroke-width="0.9" stroke-opacity="0.75"/>
<polyline points="766.34,1731.7 1134.53,1726.61 1159.55,1698.9 1179.99,1642.52 1197.28,1464.17 1212.25,1363.2" fill="none" stroke="#00CBCC" stroke-width="0.9" stroke-opacity="0.75"/>
<polyline points="766.34,1731.7 1134.53,1727.54 1159.55,1702.59 1179.99,1646.21 1197.28,1467.85 1212.25,1363.2" fill="none" stroke="#7D4E4E" stroke-width="0.9" stroke-opacity="0.75"/>
<polyline points="766.34,1731.7 1134.53,1727.35 1159.55,1701.11 1179.99,1644.73 1197.28,1466.38 1212.25,1363.2" fill="none" stroke="#8E8E00" stroke-width="0.9" stroke-opacity="0.75"/>
<polyline points="766.34,1731.7 1134.53,1727.35 1159.55,1700.38 1179.99,1644.37 1197.28,1466.38 1212.25,1363.2" fill="none" stroke="#FB6501" stroke-width="0.9" stroke-opacity="0.75"/>
<rect x="763.9" y="1729.26" width="4.87" height="4.87" fill="#515151"/>
<rect x="1132.09" y="1729.26" width="4.87" height="4.87" fill="#515151"/>
<rect x="1157.11" y="1704.21" width="4.87" height="4.87" fill="#515151"/>
<rect x="1177.56" y="1650.77" width="4.87" height="4.87" fill="#515151"/>
<rect x="1194.84" y="1477.95" width="4.87" height="4.87" fill="#515151"/>
<rect x="1209.82" y="1360.76" width="4.87" height="4.87" fill="#515151"/>
<ellipse cx="766.34" cy="1731.7" rx="2.78" ry="2.78" fill="#F14040"/>
<ellipse cx="1134.53" cy="1727.35" rx="2.78" ry="2.78" fill="#F14040"/>
<ellipse cx="1159.55" cy="1700.38" rx="2.78" ry="2.78" fill="#F14040"/>
<ellipse cx="1179.99" cy="1645.47" rx="2.78" ry="2.78" fill="#F14040"/>
<ellipse cx="1197.28" cy="1467.12" rx="2.78" ry="2.78" fill="#F14040"/>
<ellipse cx="1212.25" cy="1363.2" rx="2.78" ry="2.78" fill="#F14040"/>
<polygon points="766.34,1727.52 769.47,1733.79 763.21,1733.79" fill="#1A6FDF"/>
<polygon points="1134.53,1722.81 1137.66,1729.07 1131.39,1729.07" fill="#1A6FDF"/>
<polygon points="1159.55,1695.1 1162.68,1701.36 1156.42,1701.36" fill="#1A6FDF"/>
<polygon points="1179.99,1639.45 1183.12,1645.72 1176.86,1645.72" fill="#1A6FDF"/>
<polygon points="1197.28,1460.73 1200.41,1466.99 1194.15,1466.99" fill="#1A6FDF"/>
<polygon points="1212.25,1359.02 1215.38,1365.29 1209.12,1365.29" fill="#1A6FDF"/>
<polygon points="766.34,1735.88 769.47,1729.61 763.21,1729.61" fill="#37AD6B"/>
<polygon points="1134.53,1730.79 1137.66,1724.53 1131.39,1724.53" fill="#37AD6B"/>
<polygon points="1159.55,1702.71 1162.68,1696.45 1156.42,1696.45" fill="#37AD6B"/>
<polygon points="1179.99,1646.33 1183.12,1640.07 1176.86,1640.07" fill="#37AD6B"/>
<polygon points="1197.28,1467.61 1200.41,1461.34 1194.15,1461.34" fill="#37AD6B"/>
<polygon points="1212.25,1367.38 1215.38,1361.11 1209.12,1361.11" fill="#37AD6B"/>
<polygon points="766.34,1728.22 769.47,1731.7 766.34,1735.18 763.21,1731.7" fill="#B177DE"/>
<polygon points="1134.53,1723.87 1137.66,1727.35 1134.53,1730.83 1131.39,1727.35" fill="#B177DE"/>
<polygon points="1159.55,1697.27 1162.68,1700.75 1159.55,1704.23 1156.42,1700.75" fill="#B177DE"/>
<polygon points="1179.99,1641.62 1183.12,1645.1 1179.99,1648.58 1176.86,1645.1" fill="#B177DE"/>
<polygon points="1197.28,1464.01 1200.41,1467.49 1197.28,1470.97 1194.15,1467.49" fill="#B177DE"/>
<polygon points="1212.25,1359.72 1215.38,1363.2 1212.25,1366.68 1209.12,1363.2" fill="#B177DE"/>
<polygon points="762.16,1731.7 768.43,1728.57 768.43,1734.83" fill="#CC9900"/>
<polygon points="1130.35,1727.35 1136.61,1724.22 1136.61,1730.48" fill="#CC9900"/>
<polygon points="1155.37,1700.38 1161.64,1697.25 1161.64,1703.51" fill="#CC9900"/>
<polygon points="1175.82,1644.37 1182.08,1641.23 1182.08,1647.5" fill="#CC9900"/>
<polygon points="1193.1,1466.01 1199.37,1462.88 1199.37,1469.14" fill="#CC9900"/>
<polygon points="1208.08,1363.2 1214.34,1360.07 1214.34,1366.33" fill="#CC9900"/>
<polygon points="770.52,1731.7 764.25,1728.57 764.25,1734.83" fill="#00CBCC"/>
<polygon points="1138.7,1726.61 1132.44,1723.48 1132.44,1729.75" fill="#00CBCC"/>
<polygon points="1163.72,1698.9 1157.46,1695.77 1157.46,1702.04" fill="#00CBCC"/>
<polygon points="1184.17,1642.52 1177.9,1639.39 1177.9,1645.66" fill="#00CBCC"/>
<polygon points="1201.45,1464.17 1195.19,1461.04 1195.19,1467.3" fill="#00CBCC"/>
<polygon points="1216.43,1363.2 1210.16,1360.07 1210.16,1366.33" fill="#00CBCC"/>
<polygon points="768.73,1733.08 766.34,1734.46 763.95,1733.08 763.95,1730.32 766.34,1728.94 768.73,1730.32" fill="#7D4E4E"/>
<polygon points="1136.91,1728.91 1134.53,1730.29 1132.14,1728.91 1132.14,1726.16 1134.53,1724.78 1136.91,1726.16" fill="#7D4E4E"/>
<polygon points="1161.93,1703.97 1159.55,1705.34 1157.16,1703.97 1157.16,1701.21 1159.55,1699.83 1161.93,1701.21" fill="#7D4E4E"/>
<polygon points="1182.38,1647.59 1179.99,1648.96 1177.61,1647.59 1177.61,1644.83 1179.99,1643.45 1182.38,1644.83" fill="#7D4E4E"/>
<polygon points="1199.66,1469.23 1197.28,1470.61 1194.89,1469.23 1194.89,1466.48 1197.28,1465.1 1199.66,1466.48" fill="#7D4E4E"/>
<polygon points="1214.64,1364.58 1212.25,1365.96 1209.87,1364.58 1209.87,1361.82 1212.25,1360.44 1214.64,1361.82" fill="#7D4E4E"/>
<polygon points="766.34,1729.24 766.95,1730.86 768.69,1730.94 767.33,1732.02 767.79,1733.69 766.34,1732.74 764.89,1733.69 765.35,1732.02 764,1730.94 765.73,1730.86" fill="#8E8E00"/>
<polygon points="1134.53,1724.89 1135.14,1726.51 1136.87,1726.59 1135.52,1727.67 1135.97,1729.35 1134.53,1728.4 1133.08,1729.35 1133.53,1727.67 1132.18,1726.59 1133.91,1726.51" fill="#8E8E00"/>
<polygon points="1159.55,1698.65 1160.16,1700.27 1161.89,1700.35 1160.54,1701.44 1161,1703.11 1159.55,1702.16 1158.1,1703.11 1158.56,1701.44 1157.2,1700.35 1158.93,1700.27" fill="#8E8E00"/>
<polygon points="1179.99,1642.27 1180.61,1643.89 1182.34,1643.97 1180.99,1645.06 1181.44,1646.73 1179.99,1645.78 1178.54,1646.73 1179,1645.06 1177.65,1643.97 1179.38,1643.89" fill="#8E8E00"/>
<polygon points="1197.28,1463.92 1197.89,1465.54 1199.62,1465.62 1198.27,1466.7 1198.73,1468.37 1197.28,1467.42 1195.83,1468.37 1196.29,1466.7 1194.93,1465.62 1196.66,1465.54" fill="#8E8E00"/>
<polygon points="1212.25,1360.74 1212.87,1362.36 1214.6,1362.44 1213.24,1363.52 1213.7,1365.19 1212.25,1364.24 1210.8,1365.19 1211.26,1363.52 1209.91,1362.44 1211.64,1362.36" fill="#8E8E00"/>
<polygon points="766.34,1728.45 769.43,1730.7 768.25,1734.33 764.43,1734.33 763.25,1730.7" fill="#FB6501"/>
<polygon points="1134.53,1724.1 1137.61,1726.35 1136.44,1729.98 1132.62,1729.98 1131.44,1726.35" fill="#FB6501"/>
<polygon points="1159.55,1697.13 1162.64,1699.37 1161.46,1703.01 1157.64,1703.01 1156.46,1699.37" fill="#FB6501"/>
<polygon points="1179.99,1641.12 1183.08,1643.36 1181.9,1646.99 1178.08,1646.99 1176.9,1643.36" fill="#FB6501"/>
<polygon points="1197.28,1463.13 1200.37,1465.38 1199.19,1469.01 1195.37,1469.01 1194.19,1465.38" fill="#FB6501"/>
<polygon points="1212.25,1359.95 1215.34,1362.2 1214.16,1365.83 1210.34,1365.83 1209.16,1362.2" fill="#FB6501"/>
</g>
<clipPath id="icR"><rect x="961.1" y="1558.9" width="78.4" height="137.4"/></clipPath>
<g clip-path="url(#icR)">
<polyline points="509.26,1668.7 978.4,1668.7 1010.28,1594.31 1036.33,1435.68 1058.36,922.59 1077.44,574.7" fill="none" stroke="#515151" stroke-width="1.7"/>
<polyline points="509.26,1668.7 978.4,1655.79 1010.28,1575.71 1036.33,1412.7 1058.36,883.21 1077.44,574.7" fill="none" stroke="#F14040" stroke-width="1.7"/>
<polyline points="509.26,1668.7 978.4,1654.7 1010.28,1572.43 1036.33,1407.23 1058.36,876.64 1077.44,574.7" fill="none" stroke="#1A6FDF" stroke-width="1.7"/>
<polyline points="509.26,1668.7 978.4,1653.6 1010.28,1570.24 1036.33,1402.86 1058.36,872.27 1077.44,574.7" fill="none" stroke="#37AD6B" stroke-width="1.7"/>
<polyline points="509.26,1668.7 978.4,1655.79 1010.28,1576.8 1036.33,1411.61 1058.36,884.3 1077.44,574.7" fill="none" stroke="#B177DE" stroke-width="1.7"/>
<polyline points="509.26,1668.7 978.4,1655.79 1010.28,1575.71 1036.33,1409.42 1058.36,879.93 1077.44,574.7" fill="none" stroke="#CC9900" stroke-width="1.7"/>
<polyline points="509.26,1668.7 978.4,1653.6 1010.28,1571.33 1036.33,1403.95 1058.36,874.46 1077.44,574.7" fill="none" stroke="#00CBCC" stroke-width="1.7"/>
<polyline points="509.26,1668.7 978.4,1656.34 1010.28,1582.27 1036.33,1414.89 1058.36,885.4 1077.44,574.7" fill="none" stroke="#7D4E4E" stroke-width="1.7"/>
<polyline points="509.26,1668.7 978.4,1655.79 1010.28,1577.9 1036.33,1410.52 1058.36,881.02 1077.44,574.7" fill="none" stroke="#8E8E00" stroke-width="1.7"/>
<polyline points="509.26,1668.7 978.4,1655.79 1010.28,1575.71 1036.33,1409.42 1058.36,881.02 1077.44,574.7" fill="none" stroke="#FB6501" stroke-width="1.7"/>
</g>
<rect x="971.26" y="1661.56" width="14.28" height="14.28" fill="#515151"/>
<rect x="1003.14" y="1587.17" width="14.28" height="14.28" fill="#515151"/>
<ellipse cx="978.4" cy="1655.79" rx="8.16" ry="8.16" fill="#F14040"/>
<ellipse cx="1010.28" cy="1575.71" rx="8.16" ry="8.16" fill="#F14040"/>
<polygon points="978.4,1642.46 987.58,1660.82 969.22,1660.82" fill="#1A6FDF"/>
<polygon points="1010.28,1560.19 1019.46,1578.55 1001.1,1578.55" fill="#1A6FDF"/>
<polygon points="978.4,1665.84 987.58,1647.48 969.22,1647.48" fill="#37AD6B"/>
<polygon points="1010.28,1582.48 1019.46,1564.12 1001.1,1564.12" fill="#37AD6B"/>
<polygon points="978.4,1645.59 987.58,1655.79 978.4,1665.99 969.22,1655.79" fill="#B177DE"/>
<polygon points="1010.28,1566.6 1019.46,1576.8 1010.28,1587 1001.1,1576.8" fill="#B177DE"/>
<polygon points="966.16,1655.79 984.52,1646.61 984.52,1664.97" fill="#CC9900"/>
<polygon points="998.04,1575.71 1016.4,1566.53 1016.4,1584.89" fill="#CC9900"/>
<polygon points="990.64,1653.6 972.28,1644.42 972.28,1662.78" fill="#00CBCC"/>
<polygon points="1022.52,1571.33 1004.16,1562.15 1004.16,1580.51" fill="#00CBCC"/>
<polygon points="985.39,1660.38 978.4,1664.41 971.41,1660.38 971.41,1652.3 978.4,1648.26 985.39,1652.3" fill="#7D4E4E"/>
<polygon points="1017.28,1586.31 1010.28,1590.35 1003.29,1586.31 1003.29,1578.24 1010.28,1574.2 1017.28,1578.24" fill="#7D4E4E"/>
<polygon points="978.4,1648.57 980.2,1653.32 985.27,1653.56 981.31,1656.74 982.65,1661.64 978.4,1658.85 974.15,1661.64 975.49,1656.74 971.53,1653.56 976.6,1653.32" fill="#8E8E00"/>
<polygon points="1010.28,1570.67 1012.08,1575.42 1017.15,1575.67 1013.19,1578.84 1014.53,1583.74 1010.28,1580.96 1006.04,1583.74 1007.37,1578.84 1003.41,1575.67 1008.48,1575.42" fill="#8E8E00"/>
<polygon points="978.4,1646.27 987.45,1652.85 984,1663.49 972.8,1663.49 969.35,1652.85" fill="#FB6501"/>
<polygon points="1010.28,1566.19 1019.34,1572.77 1015.88,1583.41 1004.69,1583.41 1001.23,1572.77" fill="#FB6501"/>
<rect x="758.7" y="1355.5" width="478.4" height="383.2" fill="none" stroke="#000" stroke-width="1.6"/>
<path d="M758.7 1731.7h8M758.7 1658h8M758.7 1584.3h8M758.7 1510.6h8M758.7 1436.9h8M758.7 1363.2h8M798.6 1738.7v-8M1056.8 1738.7v-8M773.58 1738.7v-4.4M786.79 1738.7v-4.4M876.33 1738.7v-4.4M921.79 1738.7v-4.4M954.05 1738.7v-4.4M979.07 1738.7v-4.4M999.52 1738.7v-4.4M1016.8 1738.7v-4.4M1031.78 1738.7v-4.4M1044.99 1738.7v-4.4M1134.53 1738.7v-4.4M1179.99 1738.7v-4.4M1212.25 1738.7v-4.4" stroke="#000" stroke-width="1.6" fill="none"/>
<text x="751" y="1738" font-size="18.8" text-anchor="end">0</text>
<text x="751" y="1664.3" font-size="18.8" text-anchor="end">20</text>
<text x="751" y="1590.6" font-size="18.8" text-anchor="end">40</text>
<text x="751" y="1516.9" font-size="18.8" text-anchor="end">60</text>
<text x="751" y="1443.2" font-size="18.8" text-anchor="end">80</text>
<text x="751" y="1369.5" font-size="18.8" text-anchor="end">100</text>
<text x="798.6" y="1761.6" font-size="18.8" text-anchor="middle">0.1</text>
<text x="1056.8" y="1761.6" font-size="18.8" text-anchor="middle">1</text>
<text x="998.1" y="1793.2" font-size="20" text-anchor="middle">Grain size(mm)</text>
<text x="0" y="0" font-size="20" text-anchor="middle" transform="translate(715.3,1547.5) rotate(-90)">Finer Percent(%)</text>
<text x="789.8" y="1708.7" font-size="14.7" text-anchor="start" font-weight="bold">2 layer</text>
<text x="1049.05" y="1709.7" font-size="12.8" text-anchor="start" font-weight="bold">Crushing</text>
<line x1="1141" y1="1715.4" x2="1055.2" y2="1678.91" stroke="#333" stroke-width="1"/>
<polygon points="1046,1675 1056.45,1675.97 1053.95,1681.86" fill="#000"/>
<path d="M77.02 1955.2V2341.5M90.31 1955.2V2341.5M180.41 1955.2V2341.5M226.16 1955.2V2341.5M258.62 1955.2V2341.5M283.79 1955.2V2341.5M304.36 1955.2V2341.5M321.76 1955.2V2341.5M336.82 1955.2V2341.5M350.11 1955.2V2341.5M440.21 1955.2V2341.5M485.96 1955.2V2341.5M518.42 1955.2V2341.5" stroke="#d9d9d9" stroke-width="1" stroke-dasharray="2 2" fill="none"/>
<path d="M102.2 1955.2V2341.5M362 1955.2V2341.5M62.8 2333.7H543.8M62.8 2259.45H543.8M62.8 2185.2H543.8M62.8 2110.95H543.8M62.8 2036.7H543.8M62.8 1962.45H543.8" stroke="#cbcbcb" stroke-width="1.1" fill="none"/>
<line x1="80.2" y1="1982.8" x2="111" y2="1982.8" stroke="#515151" stroke-width="1" stroke-opacity="0.6"/>
<rect x="93.15" y="1980.45" width="4.7" height="4.7" fill="#515151"/>
<text x="111.5" y="1987.22" font-size="13.8" text-anchor="start">initiai grain size distribution</text>
<line x1="80.2" y1="1999.88" x2="111" y2="1999.88" stroke="#F14040" stroke-width="1" stroke-opacity="0.6"/>
<ellipse cx="95.5" cy="1999.88" rx="2.69" ry="2.69" fill="#F14040"/>
<text x="111.5" y="2004.3" font-size="13.8" text-anchor="start">Spacing-10mm Height-1mm</text>
<line x1="80.2" y1="2016.96" x2="111" y2="2016.96" stroke="#1A6FDF" stroke-width="1" stroke-opacity="0.6"/>
<polygon points="95.5,2012.93 98.52,2018.98 92.48,2018.98" fill="#1A6FDF"/>
<text x="111.5" y="2021.38" font-size="13.8" text-anchor="start">Spacing-10mm Height-2mm</text>
<line x1="80.2" y1="2034.04" x2="111" y2="2034.04" stroke="#37AD6B" stroke-width="1" stroke-opacity="0.6"/>
<polygon points="95.5,2038.07 98.52,2032.02 92.48,2032.02" fill="#37AD6B"/>
<text x="111.5" y="2038.46" font-size="13.8" text-anchor="start">Spacing-10mm Height-3mm</text>
<line x1="80.2" y1="2051.12" x2="111" y2="2051.12" stroke="#B177DE" stroke-width="1" stroke-opacity="0.6"/>
<polygon points="95.5,2047.76 98.52,2051.12 95.5,2054.48 92.48,2051.12" fill="#B177DE"/>
<text x="111.5" y="2055.54" font-size="13.8" text-anchor="start">Spacing-15mm Height-1mm</text>
<line x1="80.2" y1="2068.2" x2="111" y2="2068.2" stroke="#CC9900" stroke-width="1" stroke-opacity="0.6"/>
<polygon points="91.47,2068.2 97.52,2065.18 97.52,2071.22" fill="#CC9900"/>
<text x="111.5" y="2072.62" font-size="13.8" text-anchor="start">Spacing-15mm Height-2mm</text>
<line x1="80.2" y1="2085.28" x2="111" y2="2085.28" stroke="#00CBCC" stroke-width="1" stroke-opacity="0.6"/>
<polygon points="99.53,2085.28 93.48,2082.26 93.48,2088.3" fill="#00CBCC"/>
<text x="111.5" y="2089.7" font-size="13.8" text-anchor="start">Spacing-15mm Height-3mm</text>
<line x1="80.2" y1="2102.36" x2="111" y2="2102.36" stroke="#7D4E4E" stroke-width="1" stroke-opacity="0.6"/>
<polygon points="97.8,2103.69 95.5,2105.02 93.2,2103.69 93.2,2101.03 95.5,2099.7 97.8,2101.03" fill="#7D4E4E"/>
<text x="111.5" y="2106.78" font-size="13.8" text-anchor="start">Spacing-20mm Height-1mm</text>
<line x1="80.2" y1="2119.44" x2="111" y2="2119.44" stroke="#8E8E00" stroke-width="1" stroke-opacity="0.6"/>
<polygon points="95.5,2117.06 96.09,2118.62 97.76,2118.7 96.46,2119.75 96.9,2121.37 95.5,2120.45 94.1,2121.37 94.54,2119.75 93.24,2118.7 94.91,2118.62" fill="#8E8E00"/>
<text x="111.5" y="2123.86" font-size="13.8" text-anchor="start">Spacing-20mm Height-2mm</text>
<line x1="80.2" y1="2136.52" x2="111" y2="2136.52" stroke="#FB6501" stroke-width="1" stroke-opacity="0.6"/>
<polygon points="95.5,2133.38 98.48,2135.55 97.34,2139.06 93.66,2139.06 92.52,2135.55" fill="#FB6501"/>
<text x="111.5" y="2140.94" font-size="13.8" text-anchor="start">Spacing-20mm Height-3mm</text>
<rect x="258.2" y="2143" width="86.6" height="151.4" fill="#fff" stroke="#333" stroke-width="1.3"/>
<clipPath id="cdL"><rect x="62.8" y="1955.2" width="481" height="386.3"/></clipPath>
<g clip-path="url(#cdL)">
<polyline points="69.74,2333.7 440.21,2333.7 465.38,2308.45 485.96,2254.62 503.35,2080.51 518.42,1962.45" fill="none" stroke="#515151" stroke-width="0.9" stroke-opacity="0.75"/>
<polyline points="69.74,2333.7 440.21,2327.13 465.38,2302.51 485.96,2246.46 503.35,2070.11 518.42,1962.45" fill="none" stroke="#F14040" stroke-width="0.9" stroke-opacity="0.75"/>
<polyline points="69.74,2333.7 440.21,2326.76 465.38,2301.4 485.96,2244.6 503.35,2067.88 518.42,1962.45" fill="none" stroke="#1A6FDF" stroke-width="0.9" stroke-opacity="0.75"/>
<polyline points="69.74,2333.7 440.21,2326.39 465.38,2300.66 485.96,2243.11 503.35,2066.4 518.42,1962.45" fill="none" stroke="#37AD6B" stroke-width="0.9" stroke-opacity="0.75"/>
<polyline points="69.74,2333.7 440.21,2327.13 465.38,2302.89 485.96,2246.09 503.35,2070.48 518.42,1962.45" fill="none" stroke="#B177DE" stroke-width="0.9" stroke-opacity="0.75"/>
<polyline points="69.74,2333.7 440.21,2327.13 465.38,2302.51 485.96,2245.34 503.35,2069 518.42,1962.45" fill="none" stroke="#CC9900" stroke-width="0.9" stroke-opacity="0.75"/>
<polyline points="69.74,2333.7 440.21,2326.39 465.38,2301.03 485.96,2243.49 503.35,2067.14 518.42,1962.45" fill="none" stroke="#00CBCC" stroke-width="0.9" stroke-opacity="0.75"/>
<polyline points="69.74,2333.7 440.21,2327.39 465.38,2302.89 485.96,2246.46 503.35,2070.11 518.42,1962.45" fill="none" stroke="#7D4E4E" stroke-width="0.9" stroke-opacity="0.75"/>
<polyline points="69.74,2333.7 440.21,2327.13 465.38,2303.26 485.96,2245.71 503.35,2069.37 518.42,1962.45" fill="none" stroke="#8E8E00" stroke-width="0.9" stroke-opacity="0.75"/>
<polyline points="69.74,2333.7 440.21,2327.13 465.38,2302.51 485.96,2245.34 503.35,2069.37 518.42,1962.45" fill="none" stroke="#FB6501" stroke-width="0.9" stroke-opacity="0.75"/>
<rect x="67.3" y="2331.26" width="4.87" height="4.87" fill="#515151"/>
<rect x="437.77" y="2331.26" width="4.87" height="4.87" fill="#515151"/>
<rect x="462.95" y="2306.02" width="4.87" height="4.87" fill="#515151"/>
<rect x="483.52" y="2252.19" width="4.87" height="4.87" fill="#515151"/>
<rect x="500.91" y="2078.07" width="4.87" height="4.87" fill="#515151"/>
<rect x="515.98" y="1960.01" width="4.87" height="4.87" fill="#515151"/>
<ellipse cx="69.74" cy="2333.7" rx="2.78" ry="2.78" fill="#F14040"/>
<ellipse cx="440.21" cy="2327.13" rx="2.78" ry="2.78" fill="#F14040"/>
<ellipse cx="465.38" cy="2302.51" rx="2.78" ry="2.78" fill="#F14040"/>
<ellipse cx="485.96" cy="2246.46" rx="2.78" ry="2.78" fill="#F14040"/>
<ellipse cx="503.35" cy="2070.11" rx="2.78" ry="2.78" fill="#F14040"/>
<ellipse cx="518.42" cy="1962.45" rx="2.78" ry="2.78" fill="#F14040"/>
<polygon points="69.74,2329.52 72.87,2335.79 66.61,2335.79" fill="#1A6FDF"/>
<polygon points="440.21,2322.58 443.34,2328.85 437.08,2328.85" fill="#1A6FDF"/>
<polygon points="465.38,2297.23 468.52,2303.49 462.25,2303.49" fill="#1A6FDF"/>
<polygon points="485.96,2240.42 489.09,2246.69 482.82,2246.69" fill="#1A6FDF"/>
<polygon points="503.35,2063.71 506.48,2069.97 500.22,2069.97" fill="#1A6FDF"/>
<polygon points="518.42,1958.27 521.55,1964.54 515.28,1964.54" fill="#1A6FDF"/>
<polygon points="69.74,2337.88 72.87,2331.61 66.61,2331.61" fill="#37AD6B"/>
<polygon points="440.21,2330.56 443.34,2324.3 437.08,2324.3" fill="#37AD6B"/>
<polygon points="465.38,2304.83 468.52,2298.57 462.25,2298.57" fill="#37AD6B"/>
<polygon points="485.96,2247.29 489.09,2241.03 482.82,2241.03" fill="#37AD6B"/>
<polygon points="503.35,2070.58 506.48,2064.31 500.22,2064.31" fill="#37AD6B"/>
<polygon points="518.42,1966.63 521.55,1960.36 515.28,1960.36" fill="#37AD6B"/>
<polygon points="69.74,2330.22 72.87,2333.7 69.74,2337.18 66.61,2333.7" fill="#B177DE"/>
<polygon points="440.21,2323.65 443.34,2327.13 440.21,2330.61 437.08,2327.13" fill="#B177DE"/>
<polygon points="465.38,2299.41 468.52,2302.89 465.38,2306.37 462.25,2302.89" fill="#B177DE"/>
<polygon points="485.96,2242.61 489.09,2246.09 485.96,2249.57 482.82,2246.09" fill="#B177DE"/>
<polygon points="503.35,2067 506.48,2070.48 503.35,2073.96 500.22,2070.48" fill="#B177DE"/>
<polygon points="518.42,1958.97 521.55,1962.45 518.42,1965.93 515.28,1962.45" fill="#B177DE"/>
<polygon points="65.56,2333.7 71.83,2330.57 71.83,2336.83" fill="#CC9900"/>
<polygon points="436.03,2327.13 442.3,2324 442.3,2330.26" fill="#CC9900"/>
<polygon points="461.21,2302.51 467.47,2299.38 467.47,2305.65" fill="#CC9900"/>
<polygon points="481.78,2245.34 488.04,2242.21 488.04,2248.47" fill="#CC9900"/>
<polygon points="499.17,2069 505.44,2065.87 505.44,2072.13" fill="#CC9900"/>
<polygon points="514.24,1962.45 520.5,1959.32 520.5,1965.58" fill="#CC9900"/>
<polygon points="73.92,2333.7 67.65,2330.57 67.65,2336.83" fill="#00CBCC"/>
<polygon points="444.38,2326.39 438.12,2323.25 438.12,2329.52" fill="#00CBCC"/>
<polygon points="469.56,2301.03 463.3,2297.9 463.3,2304.16" fill="#00CBCC"/>
<polygon points="490.13,2243.49 483.87,2240.35 483.87,2246.62" fill="#00CBCC"/>
<polygon points="507.52,2067.14 501.26,2064.01 501.26,2070.27" fill="#00CBCC"/>
<polygon points="522.59,1962.45 516.33,1959.32 516.33,1965.58" fill="#00CBCC"/>
<polygon points="72.13,2335.08 69.74,2336.45 67.36,2335.08 67.36,2332.32 69.74,2330.94 72.13,2332.32" fill="#7D4E4E"/>
<polygon points="442.59,2328.77 440.21,2330.14 437.82,2328.77 437.82,2326.01 440.21,2324.63 442.59,2326.01" fill="#7D4E4E"/>
<polygon points="467.77,2304.26 465.38,2305.64 463,2304.26 463,2301.51 465.38,2300.13 467.77,2301.51" fill="#7D4E4E"/>
<polygon points="488.34,2247.83 485.96,2249.21 483.57,2247.83 483.57,2245.08 485.96,2243.7 488.34,2245.08" fill="#7D4E4E"/>
<polygon points="505.73,2071.49 503.35,2072.87 500.96,2071.49 500.96,2068.73 503.35,2067.36 505.73,2068.73" fill="#7D4E4E"/>
<polygon points="520.8,1963.83 518.42,1965.2 516.03,1963.83 516.03,1961.07 518.42,1959.69 520.8,1961.07" fill="#7D4E4E"/>
<polygon points="69.74,2331.23 70.35,2332.86 72.09,2332.94 70.73,2334.02 71.19,2335.69 69.74,2334.74 68.29,2335.69 68.75,2334.02 67.4,2332.94 69.13,2332.86" fill="#8E8E00"/>
<polygon points="440.21,2324.66 440.82,2326.28 442.55,2326.37 441.2,2327.45 441.66,2329.12 440.21,2328.17 438.76,2329.12 439.21,2327.45 437.86,2326.37 439.59,2326.28" fill="#8E8E00"/>
<polygon points="465.38,2300.79 466,2302.41 467.73,2302.5 466.38,2303.58 466.83,2305.25 465.38,2304.3 463.94,2305.25 464.39,2303.58 463.04,2302.5 464.77,2302.41" fill="#8E8E00"/>
<polygon points="485.96,2243.25 486.57,2244.87 488.3,2244.95 486.95,2246.04 487.4,2247.71 485.96,2246.76 484.51,2247.71 484.96,2246.04 483.61,2244.95 485.34,2244.87" fill="#8E8E00"/>
<polygon points="503.35,2066.9 503.96,2068.53 505.69,2068.61 504.34,2069.69 504.8,2071.36 503.35,2070.41 501.9,2071.36 502.36,2069.69 501,2068.61 502.74,2068.53" fill="#8E8E00"/>
<polygon points="518.42,1959.98 519.03,1961.61 520.76,1961.69 519.41,1962.77 519.86,1964.44 518.42,1963.49 516.97,1964.44 517.42,1962.77 516.07,1961.69 517.8,1961.61" fill="#8E8E00"/>
<polygon points="69.74,2330.45 72.83,2332.7 71.65,2336.33 67.83,2336.33 66.65,2332.7" fill="#FB6501"/>
<polygon points="440.21,2323.88 443.3,2326.13 442.12,2329.76 438.3,2329.76 437.12,2326.13" fill="#FB6501"/>
<polygon points="465.38,2299.27 468.47,2301.51 467.29,2305.14 463.48,2305.14 462.3,2301.51" fill="#FB6501"/>
<polygon points="485.96,2242.09 489.05,2244.34 487.87,2247.97 484.05,2247.97 482.87,2244.34" fill="#FB6501"/>
<polygon points="503.35,2066.12 506.44,2068.37 505.26,2072 501.44,2072 500.26,2068.37" fill="#FB6501"/>
<polygon points="518.42,1959.2 521.5,1961.45 520.32,1965.08 516.51,1965.08 515.33,1961.45" fill="#FB6501"/>
</g>
<clipPath id="idL"><rect x="266.8" y="2158" width="76" height="134.4"/></clipPath>
<g clip-path="url(#idL)">
<polyline points="-91.56,2268.8 284.9,2268.8 310.48,2196.31 331.39,2041.74 349.06,1541.79 364.37,1202.8" fill="none" stroke="#515151" stroke-width="1.4"/>
<polyline points="-91.56,2268.8 284.9,2249.93 310.48,2179.26 331.39,2018.29 349.06,1511.94 364.37,1202.8" fill="none" stroke="#F14040" stroke-width="1.4"/>
<polyline points="-91.56,2268.8 284.9,2248.87 310.48,2176.06 331.39,2012.96 349.06,1505.54 364.37,1202.8" fill="none" stroke="#1A6FDF" stroke-width="1.4"/>
<polyline points="-91.56,2268.8 284.9,2247.8 310.48,2173.93 331.39,2008.7 349.06,1501.28 364.37,1202.8" fill="none" stroke="#37AD6B" stroke-width="1.4"/>
<polyline points="-91.56,2268.8 284.9,2249.93 310.48,2180.32 331.39,2017.22 349.06,1513.01 364.37,1202.8" fill="none" stroke="#B177DE" stroke-width="1.4"/>
<polyline points="-91.56,2268.8 284.9,2249.93 310.48,2179.26 331.39,2015.09 349.06,1508.74 364.37,1202.8" fill="none" stroke="#CC9900" stroke-width="1.4"/>
<polyline points="-91.56,2268.8 284.9,2247.8 310.48,2174.99 331.39,2009.76 349.06,1503.41 364.37,1202.8" fill="none" stroke="#00CBCC" stroke-width="1.4"/>
<polyline points="-91.56,2268.8 284.9,2250.68 310.48,2180.32 331.39,2018.29 349.06,1511.94 364.37,1202.8" fill="none" stroke="#7D4E4E" stroke-width="1.4"/>
<polyline points="-91.56,2268.8 284.9,2249.93 310.48,2181.39 331.39,2016.16 349.06,1509.81 364.37,1202.8" fill="none" stroke="#8E8E00" stroke-width="1.4"/>
<polyline points="-91.56,2268.8 284.9,2249.93 310.48,2179.26 331.39,2015.09 349.06,1509.81 364.37,1202.8" fill="none" stroke="#FB6501" stroke-width="1.4"/>
</g>
<rect x="279.86" y="2262" width="10.08" height="13.61" fill="#515151"/>
<rect x="305.44" y="2189.51" width="10.08" height="13.61" fill="#515151"/>
<ellipse cx="284.9" cy="2249.93" rx="5.76" ry="7.78" fill="#F14040"/>
<ellipse cx="310.48" cy="2179.26" rx="5.76" ry="7.78" fill="#F14040"/>
<polygon points="284.9,2237.2 291.38,2254.7 278.42,2254.7" fill="#1A6FDF"/>
<polygon points="310.48,2164.39 316.96,2181.89 304,2181.89" fill="#1A6FDF"/>
<polygon points="284.9,2259.46 291.38,2241.97 278.42,2241.97" fill="#37AD6B"/>
<polygon points="310.48,2185.59 316.96,2168.09 304,2168.09" fill="#37AD6B"/>
<polygon points="284.9,2240.21 291.38,2249.93 284.9,2259.65 278.42,2249.93" fill="#B177DE"/>
<polygon points="310.48,2170.6 316.96,2180.32 310.48,2190.04 304,2180.32" fill="#B177DE"/>
<polygon points="276.26,2249.93 289.22,2241.18 289.22,2258.68" fill="#CC9900"/>
<polygon points="301.84,2179.26 314.8,2170.51 314.8,2188" fill="#CC9900"/>
<polygon points="293.54,2247.8 280.58,2239.05 280.58,2256.55" fill="#00CBCC"/>
<polygon points="319.12,2174.99 306.16,2166.24 306.16,2183.74" fill="#00CBCC"/>
<polygon points="289.84,2254.53 284.9,2258.37 279.96,2254.53 279.96,2246.83 284.9,2242.98 289.84,2246.83" fill="#7D4E4E"/>
<polygon points="315.42,2184.17 310.48,2188.02 305.55,2184.17 305.55,2176.47 310.48,2172.63 315.42,2176.47" fill="#7D4E4E"/>
<polygon points="284.9,2243.05 286.17,2247.57 289.75,2247.8 286.95,2250.83 287.9,2255.5 284.9,2252.85 281.9,2255.5 282.85,2250.83 280.05,2247.8 283.63,2247.57" fill="#8E8E00"/>
<polygon points="310.48,2174.5 311.75,2179.03 315.33,2179.26 312.54,2182.29 313.48,2186.96 310.48,2184.3 307.49,2186.96 308.43,2182.29 305.63,2179.26 309.21,2179.03" fill="#8E8E00"/>
<polygon points="284.9,2240.86 291.29,2247.13 288.85,2257.27 280.95,2257.27 278.51,2247.13" fill="#FB6501"/>
<polygon points="310.48,2170.18 316.88,2176.45 314.43,2186.6 306.53,2186.6 304.09,2176.45" fill="#FB6501"/>
<rect x="62.8" y="1955.2" width="481" height="386.3" fill="none" stroke="#000" stroke-width="1.6"/>
<path d="M62.8 2333.7h8M62.8 2259.45h8M62.8 2185.2h8M62.8 2110.95h8M62.8 2036.7h8M62.8 1962.45h8M102.2 2341.5v-8M362 2341.5v-8M77.02 2341.5v-4.4M90.31 2341.5v-4.4M180.41 2341.5v-4.4M226.16 2341.5v-4.4M258.62 2341.5v-4.4M283.79 2341.5v-4.4M304.36 2341.5v-4.4M321.76 2341.5v-4.4M336.82 2341.5v-4.4M350.11 2341.5v-4.4M440.21 2341.5v-4.4M485.96 2341.5v-4.4M518.42 2341.5v-4.4" stroke="#000" stroke-width="1.6" fill="none"/>
<text x="53.9" y="2340" font-size="18.8" text-anchor="end">0</text>
<text x="53.9" y="2265.75" font-size="18.8" text-anchor="end">20</text>
<text x="53.9" y="2191.5" font-size="18.8" text-anchor="end">40</text>
<text x="53.9" y="2117.25" font-size="18.8" text-anchor="end">60</text>
<text x="53.9" y="2043" font-size="18.8" text-anchor="end">80</text>
<text x="53.9" y="1968.75" font-size="18.8" text-anchor="end">100</text>
<text x="102.2" y="2364.7" font-size="18.8" text-anchor="middle">0.1</text>
<text x="362" y="2364.7" font-size="18.8" text-anchor="middle">1</text>
<text x="303.4" y="2396.5" font-size="20.1" text-anchor="middle">Grain size(mm)</text>
<text x="0" y="0" font-size="20.1" text-anchor="middle" transform="translate(18.9,2148.5) rotate(-90)">Finer Percent(%)</text>
<text x="94.4" y="2310.7" font-size="14.7" text-anchor="start" font-weight="bold">1 layer</text>
<text x="356.95" y="2313" font-size="12.8" text-anchor="start" font-weight="bold">Crushing</text>
<line x1="445.9" y1="2318.3" x2="360.26" y2="2280.72" stroke="#333" stroke-width="1"/>
<polygon points="351.1,2276.7 361.54,2277.79 358.97,2283.65" fill="#000"/>
<path d="M770.38 1946V2341.3M784.01 1946V2341.3M876.39 1946V2341.3M923.31 1946V2341.3M956.59 1946V2341.3M982.41 1946V2341.3M1003.5 1946V2341.3M1021.33 1946V2341.3M1036.78 1946V2341.3M1050.41 1946V2341.3M1142.79 1946V2341.3M1189.71 1946V2341.3M1222.99 1946V2341.3" stroke="#d9d9d9" stroke-width="1" stroke-dasharray="2 2" fill="none"/>
<path d="M796.2 1946V2341.3M1062.6 1946V2341.3M755.5 2334.6H1248.9M755.5 2258.4H1248.9M755.5 2182.2H1248.9M755.5 2106H1248.9M755.5 2029.8H1248.9M755.5 1953.6H1248.9" stroke="#cbcbcb" stroke-width="1.1" fill="none"/>
<line x1="773.9" y1="1974.4" x2="805" y2="1974.4" stroke="#515151" stroke-width="1" stroke-opacity="0.6"/>
<rect x="787.05" y="1972.05" width="4.7" height="4.7" fill="#515151"/>
<text x="805.8" y="1978.91" font-size="14.1" text-anchor="start">initiai grain size distribution</text>
<line x1="773.9" y1="1991.91" x2="805" y2="1991.91" stroke="#F14040" stroke-width="1" stroke-opacity="0.6"/>
<ellipse cx="789.4" cy="1991.91" rx="2.69" ry="2.69" fill="#F14040"/>
<text x="805.8" y="1996.42" font-size="14.1" text-anchor="start">Spacing-10mm Height-1mm</text>
<line x1="773.9" y1="2009.42" x2="805" y2="2009.42" stroke="#1A6FDF" stroke-width="1" stroke-opacity="0.6"/>
<polygon points="789.4,2005.39 792.42,2011.44 786.38,2011.44" fill="#1A6FDF"/>
<text x="805.8" y="2013.93" font-size="14.1" text-anchor="start">Spacing-10mm Height-2mm</text>
<line x1="773.9" y1="2026.93" x2="805" y2="2026.93" stroke="#37AD6B" stroke-width="1" stroke-opacity="0.6"/>
<polygon points="789.4,2030.96 792.42,2024.91 786.38,2024.91" fill="#37AD6B"/>
<text x="805.8" y="2031.44" font-size="14.1" text-anchor="start">Spacing-10mm Height-3mm</text>
<line x1="773.9" y1="2044.44" x2="805" y2="2044.44" stroke="#B177DE" stroke-width="1" stroke-opacity="0.6"/>
<polygon points="789.4,2041.08 792.42,2044.44 789.4,2047.8 786.38,2044.44" fill="#B177DE"/>
<text x="805.8" y="2048.95" font-size="14.1" text-anchor="start">Spacing-15mm Height-1mm</text>
<line x1="773.9" y1="2061.95" x2="805" y2="2061.95" stroke="#CC9900" stroke-width="1" stroke-opacity="0.6"/>
<polygon points="785.37,2061.95 791.42,2058.93 791.42,2064.97" fill="#CC9900"/>
<text x="805.8" y="2066.46" font-size="14.1" text-anchor="start">Spacing-15mm Height-2mm</text>
<line x1="773.9" y1="2079.46" x2="805" y2="2079.46" stroke="#00CBCC" stroke-width="1" stroke-opacity="0.6"/>
<polygon points="793.43,2079.46 787.38,2076.44 787.38,2082.48" fill="#00CBCC"/>
<text x="805.8" y="2083.97" font-size="14.1" text-anchor="start">Spacing-15mm Height-3mm</text>
<line x1="773.9" y1="2096.97" x2="805" y2="2096.97" stroke="#7D4E4E" stroke-width="1" stroke-opacity="0.6"/>
<polygon points="791.7,2098.3 789.4,2099.63 787.1,2098.3 787.1,2095.64 789.4,2094.31 791.7,2095.64" fill="#7D4E4E"/>
<text x="805.8" y="2101.48" font-size="14.1" text-anchor="start">Spacing-20mm Height-1mm</text>
<line x1="773.9" y1="2114.48" x2="805" y2="2114.48" stroke="#8E8E00" stroke-width="1" stroke-opacity="0.6"/>
<polygon points="789.4,2112.1 789.99,2113.66 791.66,2113.74 790.36,2114.79 790.8,2116.41 789.4,2115.49 788,2116.41 788.44,2114.79 787.14,2113.74 788.81,2113.66" fill="#8E8E00"/>
<text x="805.8" y="2118.99" font-size="14.1" text-anchor="start">Spacing-20mm Height-2mm</text>
<line x1="773.9" y1="2131.99" x2="805" y2="2131.99" stroke="#FB6501" stroke-width="1" stroke-opacity="0.6"/>
<polygon points="789.4,2128.85 792.38,2131.02 791.24,2134.53 787.56,2134.53 786.42,2131.02" fill="#FB6501"/>
<text x="805.8" y="2136.5" font-size="14.1" text-anchor="start">Spacing-20mm Height-3mm</text>
<rect x="956.4" y="2140.4" width="91.2" height="158.4" fill="#fff" stroke="#333" stroke-width="1.3"/>
<clipPath id="cdR"><rect x="755.5" y="1946" width="493.4" height="395.3"/></clipPath>
<g clip-path="url(#cdR)">
<polyline points="762.92,2334.6 1142.79,2334.6 1168.61,2308.69 1189.71,2253.45 1207.54,2074.76 1222.99,1953.6" fill="none" stroke="#515151" stroke-width="0.9" stroke-opacity="0.75"/>
<polyline points="762.92,2334.6 1142.79,2326.98 1168.61,2296.12 1189.71,2233.25 1207.54,2054.18 1222.99,1953.6" fill="none" stroke="#F14040" stroke-width="0.9" stroke-opacity="0.75"/>
<polyline points="762.92,2334.6 1142.79,2326.6 1168.61,2294.98 1189.71,2231.35 1207.54,2051.9 1222.99,1953.6" fill="none" stroke="#1A6FDF" stroke-width="0.9" stroke-opacity="0.75"/>
<polyline points="762.92,2334.6 1142.79,2325.84 1168.61,2291.17 1189.71,2227.92 1207.54,2046.56 1222.99,1953.6" fill="none" stroke="#37AD6B" stroke-width="0.9" stroke-opacity="0.75"/>
<polyline points="762.92,2334.6 1142.79,2326.98 1168.61,2296.5 1189.71,2232.87 1207.54,2054.57 1222.99,1953.6" fill="none" stroke="#B177DE" stroke-width="0.9" stroke-opacity="0.75"/>
<polyline points="762.92,2334.6 1142.79,2326.98 1168.61,2296.12 1189.71,2232.11 1207.54,2053.04 1222.99,1953.6" fill="none" stroke="#CC9900" stroke-width="0.9" stroke-opacity="0.75"/>
<polyline points="762.92,2334.6 1142.79,2326.22 1168.61,2293.07 1189.71,2228.68 1207.54,2048.85 1222.99,1953.6" fill="none" stroke="#00CBCC" stroke-width="0.9" stroke-opacity="0.75"/>
<polyline points="762.92,2334.6 1142.79,2327.74 1168.61,2298.4 1189.71,2235.54 1207.54,2056.47 1222.99,1953.6" fill="none" stroke="#7D4E4E" stroke-width="0.9" stroke-opacity="0.75"/>
<polyline points="762.92,2334.6 1142.79,2326.98 1168.61,2296.88 1189.71,2232.49 1207.54,2053.42 1222.99,1953.6" fill="none" stroke="#8E8E00" stroke-width="0.9" stroke-opacity="0.75"/>
<polyline points="762.92,2334.6 1142.79,2326.98 1168.61,2296.12 1189.71,2232.11 1207.54,2053.42 1222.99,1953.6" fill="none" stroke="#FB6501" stroke-width="0.9" stroke-opacity="0.75"/>
<rect x="760.48" y="2332.16" width="4.87" height="4.87" fill="#515151"/>
<rect x="1140.36" y="2332.16" width="4.87" height="4.87" fill="#515151"/>
<rect x="1166.18" y="2306.26" width="4.87" height="4.87" fill="#515151"/>
<rect x="1187.27" y="2251.01" width="4.87" height="4.87" fill="#515151"/>
<rect x="1205.1" y="2072.32" width="4.87" height="4.87" fill="#515151"/>
<rect x="1220.55" y="1951.16" width="4.87" height="4.87" fill="#515151"/>
<ellipse cx="762.92" cy="2334.6" rx="2.78" ry="2.78" fill="#F14040"/>
<ellipse cx="1142.79" cy="2326.98" rx="2.78" ry="2.78" fill="#F14040"/>
<ellipse cx="1168.61" cy="2296.12" rx="2.78" ry="2.78" fill="#F14040"/>
<ellipse cx="1189.71" cy="2233.25" rx="2.78" ry="2.78" fill="#F14040"/>
<ellipse cx="1207.54" cy="2054.18" rx="2.78" ry="2.78" fill="#F14040"/>
<ellipse cx="1222.99" cy="1953.6" rx="2.78" ry="2.78" fill="#F14040"/>
<polygon points="762.92,2330.42 766.05,2336.69 759.78,2336.69" fill="#1A6FDF"/>
<polygon points="1142.79,2322.42 1145.93,2328.69 1139.66,2328.69" fill="#1A6FDF"/>
<polygon points="1168.61,2290.8 1171.74,2297.06 1165.48,2297.06" fill="#1A6FDF"/>
<polygon points="1189.71,2227.17 1192.84,2233.44 1186.57,2233.44" fill="#1A6FDF"/>
<polygon points="1207.54,2047.72 1210.67,2053.99 1204.41,2053.99" fill="#1A6FDF"/>
<polygon points="1222.99,1949.42 1226.12,1955.69 1219.86,1955.69" fill="#1A6FDF"/>
<polygon points="762.92,2338.78 766.05,2332.51 759.78,2332.51" fill="#37AD6B"/>
<polygon points="1142.79,2330.01 1145.93,2323.75 1139.66,2323.75" fill="#37AD6B"/>
<polygon points="1168.61,2295.34 1171.74,2289.08 1165.48,2289.08" fill="#37AD6B"/>
<polygon points="1189.71,2232.1 1192.84,2225.83 1186.57,2225.83" fill="#37AD6B"/>
<polygon points="1207.54,2050.74 1210.67,2044.48 1204.41,2044.48" fill="#37AD6B"/>
<polygon points="1222.99,1957.78 1226.12,1951.51 1219.86,1951.51" fill="#37AD6B"/>
<polygon points="762.92,2331.12 766.05,2334.6 762.92,2338.08 759.78,2334.6" fill="#B177DE"/>
<polygon points="1142.79,2323.5 1145.93,2326.98 1142.79,2330.46 1139.66,2326.98" fill="#B177DE"/>
<polygon points="1168.61,2293.02 1171.74,2296.5 1168.61,2299.98 1165.48,2296.5" fill="#B177DE"/>
<polygon points="1189.71,2229.39 1192.84,2232.87 1189.71,2236.35 1186.57,2232.87" fill="#B177DE"/>
<polygon points="1207.54,2051.09 1210.67,2054.57 1207.54,2058.05 1204.41,2054.57" fill="#B177DE"/>
<polygon points="1222.99,1950.12 1226.12,1953.6 1222.99,1957.08 1219.86,1953.6" fill="#B177DE"/>
<polygon points="758.74,2334.6 765,2331.47 765,2337.73" fill="#CC9900"/>
<polygon points="1138.62,2326.98 1144.88,2323.85 1144.88,2330.11" fill="#CC9900"/>
<polygon points="1164.44,2296.12 1170.7,2292.99 1170.7,2299.25" fill="#CC9900"/>
<polygon points="1185.53,2232.11 1191.79,2228.98 1191.79,2235.24" fill="#CC9900"/>
<polygon points="1203.36,2053.04 1209.63,2049.91 1209.63,2056.17" fill="#CC9900"/>
<polygon points="1218.81,1953.6 1225.08,1950.47 1225.08,1956.73" fill="#CC9900"/>
<polygon points="767.09,2334.6 760.83,2331.47 760.83,2337.73" fill="#00CBCC"/>
<polygon points="1146.97,2326.22 1140.71,2323.09 1140.71,2329.35" fill="#00CBCC"/>
<polygon points="1172.79,2293.07 1166.52,2289.94 1166.52,2296.2" fill="#00CBCC"/>
<polygon points="1193.88,2228.68 1187.62,2225.55 1187.62,2231.81" fill="#00CBCC"/>
<polygon points="1211.72,2048.85 1205.45,2045.72 1205.45,2051.98" fill="#00CBCC"/>
<polygon points="1227.16,1953.6 1220.9,1950.47 1220.9,1956.73" fill="#00CBCC"/>
<polygon points="765.3,2335.98 762.92,2337.36 760.53,2335.98 760.53,2333.22 762.92,2331.84 765.3,2333.22" fill="#7D4E4E"/>
<polygon points="1145.18,2329.12 1142.79,2330.5 1140.41,2329.12 1140.41,2326.36 1142.79,2324.99 1145.18,2326.36" fill="#7D4E4E"/>
<polygon points="1171,2299.78 1168.61,2301.16 1166.23,2299.78 1166.23,2297.03 1168.61,2295.65 1171,2297.03" fill="#7D4E4E"/>
<polygon points="1192.09,2236.92 1189.71,2238.3 1187.32,2236.92 1187.32,2234.16 1189.71,2232.78 1192.09,2234.16" fill="#7D4E4E"/>
<polygon points="1209.93,2057.85 1207.54,2059.22 1205.15,2057.85 1205.15,2055.09 1207.54,2053.71 1209.93,2055.09" fill="#7D4E4E"/>
<polygon points="1225.37,1954.98 1222.99,1956.36 1220.6,1954.98 1220.6,1952.22 1222.99,1950.84 1225.37,1952.22" fill="#7D4E4E"/>
<polygon points="762.92,2332.13 763.53,2333.76 765.26,2333.84 763.91,2334.92 764.37,2336.59 762.92,2335.64 761.47,2336.59 761.92,2334.92 760.57,2333.84 762.3,2333.76" fill="#8E8E00"/>
<polygon points="1142.79,2324.51 1143.41,2326.14 1145.14,2326.22 1143.79,2327.3 1144.24,2328.97 1142.79,2328.02 1141.35,2328.97 1141.8,2327.3 1140.45,2326.22 1142.18,2326.14" fill="#8E8E00"/>
<polygon points="1168.61,2294.42 1169.22,2296.04 1170.96,2296.12 1169.6,2297.2 1170.06,2298.88 1168.61,2297.92 1167.16,2298.88 1167.62,2297.2 1166.27,2296.12 1168,2296.04" fill="#8E8E00"/>
<polygon points="1189.71,2230.03 1190.32,2231.65 1192.05,2231.73 1190.7,2232.81 1191.15,2234.49 1189.71,2233.54 1188.26,2234.49 1188.71,2232.81 1187.36,2231.73 1189.09,2231.65" fill="#8E8E00"/>
<polygon points="1207.54,2050.96 1208.15,2052.58 1209.88,2052.66 1208.53,2053.74 1208.99,2055.42 1207.54,2054.47 1206.09,2055.42 1206.55,2053.74 1205.2,2052.66 1206.93,2052.58" fill="#8E8E00"/>
<polygon points="1222.99,1951.13 1223.6,1952.76 1225.33,1952.84 1223.98,1953.92 1224.44,1955.59 1222.99,1954.64 1221.54,1955.59 1222,1953.92 1220.64,1952.84 1222.38,1952.76" fill="#8E8E00"/>
<polygon points="762.92,2331.35 766.01,2333.6 764.83,2337.23 761.01,2337.23 759.83,2333.6" fill="#FB6501"/>
<polygon points="1142.79,2323.73 1145.88,2325.98 1144.7,2329.61 1140.89,2329.61 1139.71,2325.98" fill="#FB6501"/>
<polygon points="1168.61,2292.87 1171.7,2295.12 1170.52,2298.75 1166.7,2298.75 1165.52,2295.12" fill="#FB6501"/>
<polygon points="1189.71,2228.86 1192.79,2231.11 1191.61,2234.74 1187.8,2234.74 1186.62,2231.11" fill="#FB6501"/>
<polygon points="1207.54,2050.17 1210.63,2052.42 1209.45,2056.05 1205.63,2056.05 1204.45,2052.42" fill="#FB6501"/>
<polygon points="1222.99,1950.35 1226.08,1952.6 1224.9,1956.23 1221.08,1956.23 1219.9,1952.6" fill="#FB6501"/>
</g>
<clipPath id="idR"><rect x="965.9" y="2156.2" width="79.7" height="140.6"/></clipPath>
<g clip-path="url(#idR)">
<polyline points="490.26,2273.9 978.8,2273.9 1012,2211.61 1039.13,2078.79 1062.06,1649.19 1081.93,1357.9" fill="none" stroke="#515151" stroke-width="1.7"/>
<polyline points="490.26,2273.9 978.8,2255.58 1012,2181.38 1039.13,2030.24 1062.06,1599.72 1081.93,1357.9" fill="none" stroke="#F14040" stroke-width="1.7"/>
<polyline points="490.26,2273.9 978.8,2254.66 1012,2178.64 1039.13,2025.66 1062.06,1594.23 1081.93,1357.9" fill="none" stroke="#1A6FDF" stroke-width="1.7"/>
<polyline points="490.26,2273.9 978.8,2252.83 1012,2169.48 1039.13,2017.42 1062.06,1581.4 1081.93,1357.9" fill="none" stroke="#37AD6B" stroke-width="1.7"/>
<polyline points="490.26,2273.9 978.8,2255.58 1012,2182.3 1039.13,2029.33 1062.06,1600.64 1081.93,1357.9" fill="none" stroke="#B177DE" stroke-width="1.7"/>
<polyline points="490.26,2273.9 978.8,2255.58 1012,2181.38 1039.13,2027.5 1062.06,1596.98 1081.93,1357.9" fill="none" stroke="#CC9900" stroke-width="1.7"/>
<polyline points="490.26,2273.9 978.8,2253.75 1012,2174.06 1039.13,2019.25 1062.06,1586.9 1081.93,1357.9" fill="none" stroke="#00CBCC" stroke-width="1.7"/>
<polyline points="490.26,2273.9 978.8,2257.41 1012,2186.88 1039.13,2035.74 1062.06,1605.22 1081.93,1357.9" fill="none" stroke="#7D4E4E" stroke-width="1.7"/>
<polyline points="490.26,2273.9 978.8,2255.58 1012,2183.22 1039.13,2028.41 1062.06,1597.89 1081.93,1357.9" fill="none" stroke="#8E8E00" stroke-width="1.7"/>
<polyline points="490.26,2273.9 978.8,2255.58 1012,2181.38 1039.13,2027.5 1062.06,1597.89 1081.93,1357.9" fill="none" stroke="#FB6501" stroke-width="1.7"/>
</g>
<rect x="971.66" y="2266.76" width="14.28" height="14.28" fill="#515151"/>
<rect x="1004.86" y="2204.47" width="14.28" height="14.28" fill="#515151"/>
<ellipse cx="978.8" cy="2255.58" rx="8.16" ry="8.16" fill="#F14040"/>
<ellipse cx="1012" cy="2181.38" rx="8.16" ry="8.16" fill="#F14040"/>
<polygon points="978.8,2242.42 987.98,2260.78 969.62,2260.78" fill="#1A6FDF"/>
<polygon points="1012,2166.4 1021.18,2184.76 1002.82,2184.76" fill="#1A6FDF"/>
<polygon points="978.8,2265.07 987.98,2246.71 969.62,2246.71" fill="#37AD6B"/>
<polygon points="1012,2181.72 1021.18,2163.36 1002.82,2163.36" fill="#37AD6B"/>
<polygon points="978.8,2245.38 987.98,2255.58 978.8,2265.78 969.62,2255.58" fill="#B177DE"/>
<polygon points="1012,2172.1 1021.18,2182.3 1012,2192.5 1002.82,2182.3" fill="#B177DE"/>
<polygon points="966.56,2255.58 984.92,2246.4 984.92,2264.76" fill="#CC9900"/>
<polygon points="999.76,2181.38 1018.12,2172.2 1018.12,2190.56" fill="#CC9900"/>
<polygon points="991.04,2253.75 972.68,2244.57 972.68,2262.93" fill="#00CBCC"/>
<polygon points="1024.24,2174.06 1005.88,2164.88 1005.88,2183.24" fill="#00CBCC"/>
<polygon points="985.79,2261.45 978.8,2265.49 971.81,2261.45 971.81,2253.37 978.8,2249.34 985.79,2253.37" fill="#7D4E4E"/>
<polygon points="1018.99,2190.92 1012,2194.95 1005.01,2190.92 1005.01,2182.84 1012,2178.81 1018.99,2182.84" fill="#7D4E4E"/>
<polygon points="978.8,2248.36 980.6,2253.1 985.67,2253.35 981.71,2256.53 983.05,2261.43 978.8,2258.64 974.55,2261.43 975.89,2256.53 971.93,2253.35 977,2253.1" fill="#8E8E00"/>
<polygon points="1012,2175.99 1013.8,2180.74 1018.87,2180.98 1014.91,2184.16 1016.25,2189.06 1012,2186.28 1007.75,2189.06 1009.09,2184.16 1005.13,2180.98 1010.2,2180.74" fill="#8E8E00"/>
<polygon points="978.8,2246.06 987.85,2252.64 984.4,2263.28 973.2,2263.28 969.75,2252.64" fill="#FB6501"/>
<polygon points="1012,2171.86 1021.06,2178.44 1017.6,2189.09 1006.41,2189.09 1002.95,2178.44" fill="#FB6501"/>
<rect x="755.5" y="1946" width="493.4" height="395.3" fill="none" stroke="#000" stroke-width="1.6"/>
<path d="M755.5 2334.6h8M755.5 2258.4h8M755.5 2182.2h8M755.5 2106h8M755.5 2029.8h8M755.5 1953.6h8M796.2 2341.3v-8M1062.6 2341.3v-8M770.38 2341.3v-4.4M784.01 2341.3v-4.4M876.39 2341.3v-4.4M923.31 2341.3v-4.4M956.59 2341.3v-4.4M982.41 2341.3v-4.4M1003.5 2341.3v-4.4M1021.33 2341.3v-4.4M1036.78 2341.3v-4.4M1050.41 2341.3v-4.4M1142.79 2341.3v-4.4M1189.71 2341.3v-4.4M1222.99 2341.3v-4.4" stroke="#000" stroke-width="1.6" fill="none"/>
<text x="747.4" y="2340.9" font-size="18.8" text-anchor="end">0</text>
<text x="747.4" y="2264.7" font-size="18.8" text-anchor="end">20</text>
<text x="747.4" y="2188.5" font-size="18.8" text-anchor="end">40</text>
<text x="747.4" y="2112.3" font-size="18.8" text-anchor="end">60</text>
<text x="747.4" y="2036.1" font-size="18.8" text-anchor="end">80</text>
<text x="747.4" y="1959.9" font-size="18.8" text-anchor="end">100</text>
<text x="796.2" y="2365.4" font-size="18.8" text-anchor="middle">0.1</text>
<text x="1062.6" y="2365.4" font-size="18.8" text-anchor="middle">1</text>
<text x="1002.3" y="2398.2" font-size="20.4" text-anchor="middle">Grain size(mm)</text>
<text x="0" y="0" font-size="20.4" text-anchor="middle" transform="translate(710.6,2144) rotate(-90)">Finer Percent(%)</text>
<text x="788" y="2309.9" font-size="14.9" text-anchor="start" font-weight="bold">2 layer</text>
<text x="1047.75" y="2307.5" font-size="13" text-anchor="start" font-weight="bold">Crushing</text>
<line x1="1148.7" y1="2317.5" x2="1060.46" y2="2278.91" stroke="#333" stroke-width="1"/>
<polygon points="1051.3,2274.9 1061.74,2275.98 1059.18,2281.84" fill="#000"/>
<text x="612.7" y="693" font-size="38.5" text-anchor="middle">(a)</text>
<text x="587" y="1283.9" font-size="39" text-anchor="middle">(b)</text>
<text x="587" y="1886.5" font-size="39.5" text-anchor="middle">(c)</text>
<text x="587" y="2489.6" font-size="39.2" text-anchor="middle">(d)</text>
</svg>
</body></html>
